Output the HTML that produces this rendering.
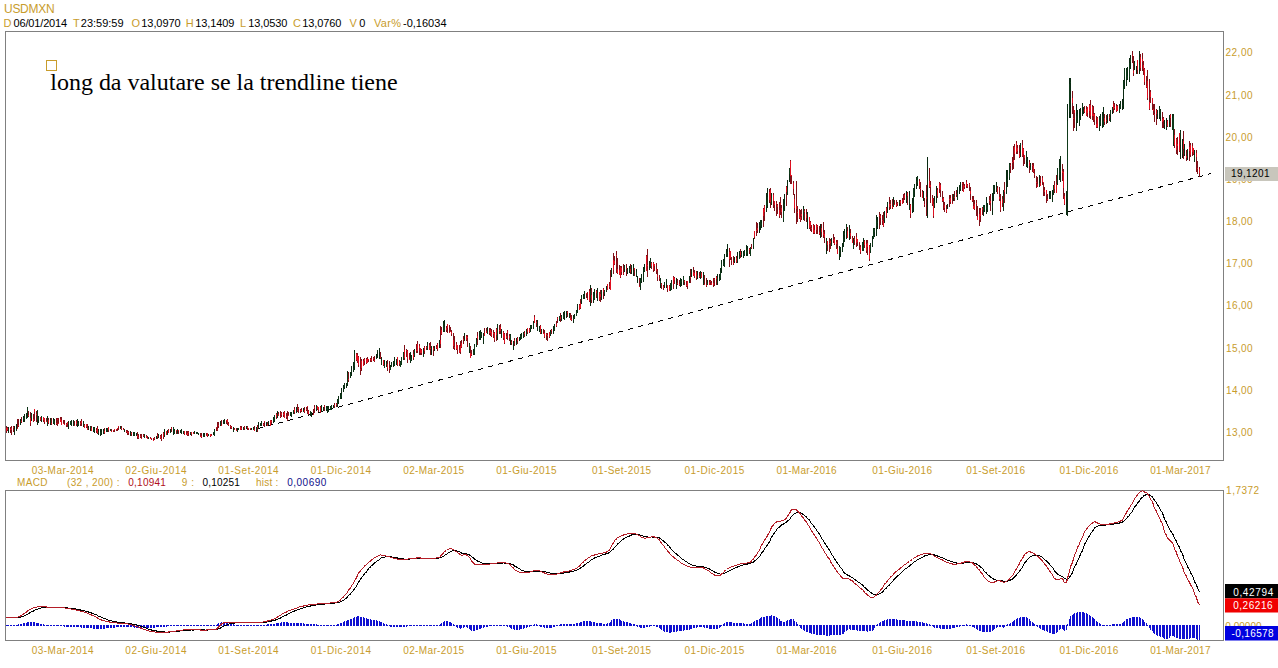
<!DOCTYPE html>
<html><head><meta charset="utf-8"><style>
html,body{margin:0;padding:0;background:#fff;width:1278px;height:668px;overflow:hidden}
svg{display:block}
text{font-family:"Liberation Sans",sans-serif}
</style></head><body>
<svg width="1278" height="668" viewBox="0 0 1278 668">
<rect x="5.5" y="31.5" width="1218" height="429" fill="#fff" stroke="#808080" stroke-width="1"/>
<rect x="5.5" y="490.5" width="1218" height="150" fill="#fff" stroke="#808080" stroke-width="1"/>
<text x="4.00" y="13" fill="#c89c2c" font-size="12" textLength="50.60" lengthAdjust="spacing" style="font-family:'Liberation Sans'" >USDMXN</text><text x="3.60" y="27" fill="#c89c2c" font-size="11" textLength="8.30" lengthAdjust="spacing" style="font-family:'Liberation Sans'" >D</text><text x="13.58" y="27" fill="#000" font-size="11" textLength="53.54" lengthAdjust="spacing" style="font-family:'Liberation Sans'" >06/01/2014</text><text x="73.08" y="27" fill="#c89c2c" font-size="11" textLength="5.10" lengthAdjust="spacing" style="font-family:'Liberation Sans'" >T</text><text x="80.80" y="27" fill="#000" font-size="11" textLength="42.80" lengthAdjust="spacing" style="font-family:'Liberation Sans'" >23:59:59</text><text x="131.40" y="27" fill="#c89c2c" font-size="11" textLength="8.40" lengthAdjust="spacing" style="font-family:'Liberation Sans'" >O</text><text x="141.30" y="27" fill="#000" font-size="11" textLength="39.30" lengthAdjust="spacing" style="font-family:'Liberation Sans'" >13,0970</text><text x="185.80" y="27" fill="#c89c2c" font-size="11" textLength="8.20" lengthAdjust="spacing" style="font-family:'Liberation Sans'" >H</text><text x="195.30" y="27" fill="#000" font-size="11" textLength="39.10" lengthAdjust="spacing" style="font-family:'Liberation Sans'" >13,1409</text><text x="240.10" y="27" fill="#c89c2c" font-size="11" textLength="7.00" lengthAdjust="spacing" style="font-family:'Liberation Sans'" >L</text><text x="248.14" y="27" fill="#000" font-size="11" textLength="39.18" lengthAdjust="spacing" style="font-family:'Liberation Sans'" >13,0530</text><text x="293.08" y="27" fill="#c89c2c" font-size="11" textLength="6.76" lengthAdjust="spacing" style="font-family:'Liberation Sans'" >C</text><text x="302.20" y="27" fill="#000" font-size="11" textLength="39.10" lengthAdjust="spacing" style="font-family:'Liberation Sans'" >13,0760</text><text x="349.42" y="27" fill="#c89c2c" font-size="11" textLength="8.62" lengthAdjust="spacing" style="font-family:'Liberation Sans'" >V</text><text x="359.20" y="27" fill="#000" font-size="11" textLength="6.40" lengthAdjust="spacing" style="font-family:'Liberation Sans'" >0</text><text x="373.90" y="27" fill="#c89c2c" font-size="11" textLength="27.06" lengthAdjust="spacing" style="font-family:'Liberation Sans'" >Var%</text><text x="403.00" y="27" fill="#000" font-size="11" textLength="43.50" lengthAdjust="spacing" style="font-family:'Liberation Sans'" >-0,16034</text><text x="16.98" y="486" fill="#c89c2c" font-size="10" textLength="30.50" lengthAdjust="spacing" style="font-family:'Liberation Sans'" >MACD</text><text x="66.90" y="486" fill="#c89c2c" font-size="10" textLength="52.60" lengthAdjust="spacing" style="font-family:'Liberation Sans'" >(32 , 200) :</text><text x="128.26" y="486" fill="#b01020" font-size="10" textLength="37.66" lengthAdjust="spacing" style="font-family:'Liberation Sans'" >0,10941</text><text x="181.80" y="486" fill="#c89c2c" font-size="10" textLength="12.30" lengthAdjust="spacing" style="font-family:'Liberation Sans'" >9 :</text><text x="202.58" y="486" fill="#000" font-size="10" textLength="37.22" lengthAdjust="spacing" style="font-family:'Liberation Sans'" >0,10251</text><text x="255.90" y="486" fill="#c89c2c" font-size="10" textLength="22.30" lengthAdjust="spacing" style="font-family:'Liberation Sans'" >hist :</text><text x="287.26" y="486" fill="#10108a" font-size="10" textLength="39.02" lengthAdjust="spacing" style="font-family:'Liberation Sans'" >0,00690</text><text x="1226.10" y="494" fill="#c89c2c" font-size="10" textLength="33.00" lengthAdjust="spacing" style="font-family:'Liberation Sans'" >1,7372</text><text x="1226.00" y="436" fill="#c89c2c" font-size="10" textLength="26.60" lengthAdjust="spacing" style="font-family:'Liberation Sans'" >13,00</text><text x="1226.00" y="394" fill="#c89c2c" font-size="10" textLength="26.60" lengthAdjust="spacing" style="font-family:'Liberation Sans'" >14,00</text><text x="1226.00" y="352" fill="#c89c2c" font-size="10" textLength="26.60" lengthAdjust="spacing" style="font-family:'Liberation Sans'" >15,00</text><text x="1226.00" y="309" fill="#c89c2c" font-size="10" textLength="26.60" lengthAdjust="spacing" style="font-family:'Liberation Sans'" >16,00</text><text x="1226.00" y="267" fill="#c89c2c" font-size="10" textLength="26.60" lengthAdjust="spacing" style="font-family:'Liberation Sans'" >17,00</text><text x="1226.00" y="225" fill="#c89c2c" font-size="10" textLength="26.60" lengthAdjust="spacing" style="font-family:'Liberation Sans'" >18,00</text><text x="1226.00" y="183" fill="#c89c2c" font-size="10" textLength="26.60" lengthAdjust="spacing" style="font-family:'Liberation Sans'" >19,00</text><text x="1225.42" y="141" fill="#c89c2c" font-size="10" textLength="27.18" lengthAdjust="spacing" style="font-family:'Liberation Sans'" >20,00</text><text x="1225.42" y="99" fill="#c89c2c" font-size="10" textLength="27.18" lengthAdjust="spacing" style="font-family:'Liberation Sans'" >21,00</text><text x="1225.42" y="56" fill="#c89c2c" font-size="10" textLength="27.18" lengthAdjust="spacing" style="font-family:'Liberation Sans'" >22,00</text><text x="31.80" y="474" fill="#c89c2c" font-size="10" textLength="61.80" lengthAdjust="spacing" style="font-family:'Liberation Sans'" >03-Mar-2014</text><text x="31.80" y="654" fill="#c89c2c" font-size="10" textLength="61.80" lengthAdjust="spacing" style="font-family:'Liberation Sans'" >03-Mar-2014</text><text x="125.30" y="474" fill="#c89c2c" font-size="10" textLength="61.30" lengthAdjust="spacing" style="font-family:'Liberation Sans'" >02-Giu-2014</text><text x="125.30" y="654" fill="#c89c2c" font-size="10" textLength="61.30" lengthAdjust="spacing" style="font-family:'Liberation Sans'" >02-Giu-2014</text><text x="218.30" y="474" fill="#c89c2c" font-size="10" textLength="60.34" lengthAdjust="spacing" style="font-family:'Liberation Sans'" >01-Set-2014</text><text x="218.30" y="654" fill="#c89c2c" font-size="10" textLength="60.34" lengthAdjust="spacing" style="font-family:'Liberation Sans'" >01-Set-2014</text><text x="310.80" y="474" fill="#c89c2c" font-size="10" textLength="60.30" lengthAdjust="spacing" style="font-family:'Liberation Sans'" >01-Dic-2014</text><text x="310.80" y="654" fill="#c89c2c" font-size="10" textLength="60.30" lengthAdjust="spacing" style="font-family:'Liberation Sans'" >01-Dic-2014</text><text x="403.26" y="474" fill="#c89c2c" font-size="10" textLength="60.86" lengthAdjust="spacing" style="font-family:'Liberation Sans'" >02-Mar-2015</text><text x="403.26" y="654" fill="#c89c2c" font-size="10" textLength="60.86" lengthAdjust="spacing" style="font-family:'Liberation Sans'" >02-Mar-2015</text><text x="496.30" y="474" fill="#c89c2c" font-size="10" textLength="60.30" lengthAdjust="spacing" style="font-family:'Liberation Sans'" >01-Giu-2015</text><text x="496.30" y="654" fill="#c89c2c" font-size="10" textLength="60.30" lengthAdjust="spacing" style="font-family:'Liberation Sans'" >01-Giu-2015</text><text x="592.10" y="474" fill="#c89c2c" font-size="10" textLength="59.06" lengthAdjust="spacing" style="font-family:'Liberation Sans'" >01-Set-2015</text><text x="592.10" y="654" fill="#c89c2c" font-size="10" textLength="59.06" lengthAdjust="spacing" style="font-family:'Liberation Sans'" >01-Set-2015</text><text x="684.50" y="474" fill="#c89c2c" font-size="10" textLength="59.80" lengthAdjust="spacing" style="font-family:'Liberation Sans'" >01-Dic-2015</text><text x="684.50" y="654" fill="#c89c2c" font-size="10" textLength="59.80" lengthAdjust="spacing" style="font-family:'Liberation Sans'" >01-Dic-2015</text><text x="776.58" y="474" fill="#c89c2c" font-size="10" textLength="60.06" lengthAdjust="spacing" style="font-family:'Liberation Sans'" >01-Mar-2016</text><text x="776.58" y="654" fill="#c89c2c" font-size="10" textLength="60.06" lengthAdjust="spacing" style="font-family:'Liberation Sans'" >01-Mar-2016</text><text x="872.20" y="474" fill="#c89c2c" font-size="10" textLength="59.90" lengthAdjust="spacing" style="font-family:'Liberation Sans'" >01-Giu-2016</text><text x="872.20" y="654" fill="#c89c2c" font-size="10" textLength="59.90" lengthAdjust="spacing" style="font-family:'Liberation Sans'" >01-Giu-2016</text><text x="966.26" y="474" fill="#c89c2c" font-size="10" textLength="58.86" lengthAdjust="spacing" style="font-family:'Liberation Sans'" >01-Set-2016</text><text x="966.26" y="654" fill="#c89c2c" font-size="10" textLength="58.86" lengthAdjust="spacing" style="font-family:'Liberation Sans'" >01-Set-2016</text><text x="1059.42" y="474" fill="#c89c2c" font-size="10" textLength="58.86" lengthAdjust="spacing" style="font-family:'Liberation Sans'" >01-Dic-2016</text><text x="1059.42" y="654" fill="#c89c2c" font-size="10" textLength="58.86" lengthAdjust="spacing" style="font-family:'Liberation Sans'" >01-Dic-2016</text><text x="1150.20" y="474" fill="#c89c2c" font-size="10" textLength="60.30" lengthAdjust="spacing" style="font-family:'Liberation Sans'" >01-Mar-2017</text><text x="1150.20" y="654" fill="#c89c2c" font-size="10" textLength="60.30" lengthAdjust="spacing" style="font-family:'Liberation Sans'" >01-Mar-2017</text>
<line x1="258" y1="428.6" x2="1211" y2="173.5" stroke="#000" stroke-width="1" stroke-dasharray="5.2 5.15" shape-rendering="crispEdges"/>
<path d="M8.5 427.0V432.6M14.5 426.0V434.5M16.5 423.9V431.1M20.5 418.6V424.5M23.5 416.0V422.4M24.5 413.9V422.4M26.5 413.0V418.9M27.5 407.1V418.4M31.5 412.7V421.1M37.5 409.9V424.7M38.5 415.8V423.2M41.5 416.1V421.9M47.5 416.1V425.5M50.5 418.0V424.9M53.5 418.3V424.0M54.5 419.2V425.0M68.5 421.4V428.6M70.5 420.9V425.0M71.5 420.0V425.5M73.5 420.4V425.9M77.5 419.3V427.1M78.5 420.7V426.0M83.5 421.4V427.1M88.5 426.0V429.7M90.5 426.0V430.6M93.5 426.7V431.8M94.5 427.0V432.7M98.5 429.2V434.7M100.5 429.3V435.5M101.5 429.0V434.5M103.5 429.3V434.4M106.5 428.3V431.9M107.5 427.5V432.4M110.5 429.1V431.3M120.5 426.4V429.0M124.5 428.5V431.7M130.5 430.7V436.3M133.5 432.1V435.7M134.5 432.4V435.5M136.5 432.6V436.2M144.5 434.0V438.0M148.5 436.8V438.9M156.5 436.3V438.9M158.5 434.3V437.6M164.5 429.3V437.1M167.5 429.9V435.0M170.5 428.6V433.2M173.5 426.9V434.7M174.5 429.3V434.4M177.5 429.2V434.0M180.5 429.6V433.0M181.5 429.3V433.5M183.5 430.8V433.8M190.5 431.6V435.4M194.5 431.0V434.1M196.5 432.0V433.8M197.5 431.8V434.3M198.5 432.6V435.1M203.5 433.4V436.3M204.5 432.6V436.5M208.5 433.5V435.8M213.5 431.8V435.0M214.5 429.2V435.7M220.5 421.1V426.3M223.5 420.0V423.4M224.5 418.5V423.5M233.5 426.6V431.8M237.5 427.8V431.8M238.5 428.0V430.2M243.5 426.5V429.6M246.5 426.3V429.2M251.5 427.9V429.6M253.5 427.3V429.8M256.5 426.6V431.5M258.5 421.5V429.4M260.5 423.0V426.3M261.5 420.8V425.7M266.5 421.5V426.1M268.5 421.0V425.4M273.5 417.2V422.8M274.5 415.2V421.6M277.5 410.6V417.7M290.5 411.8V416.2M291.5 411.7V416.6M293.5 409.6V414.2M296.5 406.8V412.6M303.5 407.9V412.3M310.5 410.7V415.8M311.5 411.8V416.6M316.5 404.7V410.6M321.5 405.2V411.9M323.5 406.7V410.6M326.5 406.3V411.4M327.5 405.9V413.1M328.5 405.9V411.1M330.5 405.9V409.9M331.5 404.7V409.5M333.5 404.8V407.5M337.5 399.4V407.1M338.5 396.3V404.4M340.5 393.3V398.8M341.5 388.2V398.7M343.5 385.4V392.0M344.5 383.1V389.1M346.5 383.1V388.2M347.5 371.1V385.6M350.5 372.2V378.3M351.5 366.3V376.4M353.5 362.2V371.9M354.5 350.2V369.9M376.5 353.8V358.5M377.5 349.5V358.1M379.5 348.4V359.2M381.5 357.0V365.1M384.5 360.4V367.8M386.5 361.0V367.4M390.5 364.8V370.3M391.5 362.1V367.4M393.5 360.9V366.8M394.5 356.9V366.4M396.5 358.5V364.6M400.5 360.6V367.4M401.5 357.2V365.3M403.5 352.3V359.7M410.5 351.7V363.2M411.5 354.8V361.2M414.5 348.5V357.2M423.5 348.4V355.9M427.5 342.3V350.0M431.5 346.0V354.5M434.5 346.4V350.8M439.5 340.0V347.6M443.5 321.3V331.8M444.5 320.2V331.8M464.5 332.8V340.3M469.5 343.3V353.0M473.5 349.0V354.8M474.5 343.7V354.8M476.5 338.3V347.1M479.5 330.7V340.2M480.5 329.8V339.5M481.5 331.6V337.5M483.5 333.1V343.5M487.5 326.7V334.2M497.5 323.5V339.5M501.5 328.8V337.8M510.5 334.0V344.6M513.5 340.9V349.7M516.5 338.1V344.6M519.5 336.7V340.8M520.5 333.9V340.3M521.5 333.0V338.9M523.5 331.9V338.3M526.5 328.8V335.5M530.5 325.1V331.9M531.5 324.9V329.3M533.5 321.2V328.8M537.5 320.4V330.5M539.5 325.5V331.5M541.5 328.6V333.9M550.5 329.5V336.1M553.5 325.9V333.0M554.5 323.5V331.0M559.5 315.5V320.7M561.5 315.2V320.5M563.5 311.9V319.4M564.5 311.0V320.4M566.5 311.1V318.3M569.5 312.9V318.4M573.5 315.1V322.5M574.5 313.8V318.9M576.5 309.9V316.2M577.5 303.6V312.7M581.5 294.5V304.0M583.5 293.8V298.7M584.5 291.4V298.7M590.5 285.0V306.0M593.5 291.8V303.1M594.5 289.3V299.8M597.5 288.2V300.9M601.5 289.6V299.8M604.5 290.2V295.8M606.5 286.3V291.6M611.5 268.1V276.5M624.5 264.8V271.7M627.5 267.5V273.5M629.5 265.8V272.6M631.5 264.8V274.4M633.5 264.1V275.8M636.5 269.4V277.2M637.5 275.6V283.1M640.5 277.7V290.3M641.5 273.7V283.3M643.5 267.3V282.0M644.5 263.6V271.7M649.5 260.7V269.7M650.5 257.8V267.8M660.5 277.7V287.5M664.5 282.4V287.9M666.5 278.8V287.5M670.5 283.0V291.4M671.5 280.1V290.0M676.5 277.8V289.0M680.5 277.9V287.0M681.5 278.9V285.5M683.5 276.0V285.3M689.5 275.7V282.5M691.5 268.7V277.1M697.5 271.2V279.0M700.5 271.0V278.8M703.5 271.9V285.0M707.5 280.3V285.1M717.5 273.5V285.0M719.5 274.1V281.4M720.5 268.4V280.0M721.5 260.0V273.1M723.5 259.0V265.6M724.5 254.1V267.0M726.5 248.6V256.5M727.5 244.0V256.8M734.5 257.3V263.4M737.5 252.2V263.0M739.5 251.0V259.4M741.5 250.8V256.8M743.5 250.6V258.0M744.5 249.5V255.5M746.5 245.0V256.4M747.5 246.3V255.5M750.5 246.6V256.0M753.5 238.0V249.0M759.5 221.5V233.0M760.5 220.0V230.0M761.5 220.0V227.9M766.5 193.0V212.1M767.5 188.0V207.6M771.5 193.0V204.8M783.5 198.6V222.0M784.5 193.6V211.1M787.5 180.1V195.0M789.5 167.6V182.2M803.5 206.0V220.3M807.5 211.9V229.0M820.5 223.6V238.0M826.5 238.0V254.0M831.5 238.2V245.5M839.5 245.6V260.0M840.5 246.6V257.1M842.5 243.0V252.3M843.5 231.0V247.4M844.5 229.2V241.8M846.5 224.0V239.3M849.5 224.9V240.0M853.5 237.5V249.0M862.5 241.7V251.2M863.5 238.0V251.4M870.5 242.8V253.1M872.5 236.3V247.3M873.5 228.0V239.4M874.5 228.0V237.1M876.5 215.0V236.2M877.5 217.2V229.0M884.5 211.4V223.0M887.5 202.0V213.1M893.5 197.0V207.2M899.5 200.0V206.0M906.5 191.0V202.5M909.5 191.0V210.0M912.5 198.3V213.2M913.5 188.0V212.0M914.5 184.2V196.8M916.5 177.0V189.0M917.5 176.0V186.2M923.5 190.6V201.0M927.5 157.0V218.0M934.5 196.1V207.8M936.5 186.0V203.4M947.5 204.3V209.4M953.5 193.8V201.1M957.5 187.1V200.0M959.5 184.6V193.5M960.5 182.0V191.1M983.5 205.0V216.1M984.5 205.1V212.1M986.5 197.0V214.2M987.5 202.6V212.3M992.5 193.3V215.0M993.5 185.0V200.6M994.5 184.6V193.6M996.5 182.0V192.0M1003.5 190.0V211.0M1006.5 170.0V194.0M1007.5 170.1V186.5M1009.5 163.0V180.0M1020.5 143.4V157.2M1026.5 150.8V167.0M1027.5 156.6V168.2M1030.5 163.3V170.1M1039.5 175.0V187.1M1049.5 191.0V199.1M1050.5 191.1V199.3M1052.5 190.0V202.0M1053.5 185.0V194.6M1057.5 167.8V184.8M1059.5 159.3V179.5M1060.5 156.0V182.0M1066.5 191.3V215.0M1067.5 104.3V215.5M1069.5 78.0V117.5M1070.5 78.0V117.5M1076.5 104.0V131.0M1077.5 109.8V122.8M1079.5 108.5V125.6M1080.5 108.2V119.8M1082.5 103.0V116.4M1083.5 107.2V113.8M1099.5 116.0V131.0M1100.5 114.4V126.0M1102.5 111.6V128.4M1103.5 107.0V127.0M1107.5 114.3V123.0M1110.5 110.3V122.0M1112.5 107.1V113.5M1119.5 104.0V113.0M1120.5 100.5V109.4M1122.5 98.8V110.1M1123.5 79.8V109.0M1124.5 68.0V89.0M1126.5 68.0V86.3M1127.5 67.0V80.4M1129.5 58.1V82.0M1130.5 55.0V68.7M1134.5 60.9V69.8M1136.5 66.4V73.9M1139.5 51.0V74.0M1157.5 109.8V119.2M1159.5 106.0V118.8M1160.5 109.2V120.7M1164.5 119.7V129.3M1166.5 117.9V130.0M1169.5 115.0V127.1M1172.5 114.1V130.4M1173.5 114.0V146.2M1180.5 130.0V159.0M1182.5 139.0V158.2M1184.5 143.8V156.3M1187.5 148.7V160.1M1194.5 149.7V162.3" stroke="#0a2a12" stroke-width="1" fill="none" shape-rendering="crispEdges"/><path d="M6.5 426.3V433.3M7.5 426.6V430.7M10.5 426.7V433.4M11.5 426.3V434.5M13.5 426.3V432.4M17.5 418.5V429.4M18.5 419.0V426.8M21.5 417.4V423.2M28.5 410.5V416.9M30.5 412.0V425.5M33.5 414.4V421.8M34.5 409.0V421.1M36.5 410.8V422.4M40.5 416.6V421.1M43.5 416.7V422.3M44.5 417.5V423.5M46.5 417.6V422.4M48.5 418.3V424.3M51.5 417.7V424.8M56.5 417.8V425.0M57.5 417.6V425.5M58.5 418.4V423.7M60.5 417.1V422.2M61.5 416.9V424.8M63.5 419.6V424.0M64.5 419.9V425.0M66.5 422.7V426.9M67.5 421.7V426.5M74.5 420.5V426.2M76.5 420.4V425.9M80.5 421.4V425.9M81.5 419.3V426.3M84.5 424.0V427.7M86.5 424.2V427.5M87.5 424.2V430.2M91.5 426.4V431.0M96.5 428.3V432.7M97.5 426.1V433.5M104.5 427.7V434.0M108.5 426.9V432.4M111.5 429.3V431.8M113.5 429.7V431.6M114.5 429.1V432.4M116.5 428.8V430.6M117.5 427.6V430.8M118.5 426.1V430.0M121.5 426.1V429.6M123.5 427.8V430.4M126.5 430.2V432.9M127.5 429.9V434.7M128.5 430.5V434.9M131.5 431.8V435.8M137.5 432.4V438.6M138.5 433.6V438.6M140.5 434.4V437.9M141.5 434.0V438.6M143.5 434.3V437.1M146.5 435.1V438.3M147.5 435.5V439.4M150.5 437.1V439.4M151.5 437.5V439.9M153.5 437.8V441.0M154.5 437.2V439.8M157.5 433.2V438.7M160.5 435.1V439.3M161.5 433.7V441.0M163.5 431.7V438.5M166.5 430.9V435.1M168.5 429.3V433.2M171.5 426.9V432.4M176.5 430.2V434.2M178.5 429.5V433.6M184.5 430.8V434.8M186.5 431.0V434.1M187.5 430.8V435.5M188.5 431.3V435.5M191.5 431.7V435.7M193.5 431.8V433.8M200.5 433.1V436.3M201.5 433.2V437.6M206.5 432.8V435.9M207.5 432.6V436.5M210.5 434.0V436.5M211.5 433.5V436.2M216.5 426.7V431.2M217.5 422.3V431.0M218.5 422.0V427.5M221.5 420.0V425.5M226.5 420.1V424.1M227.5 419.3V425.0M228.5 422.2V426.3M230.5 424.7V429.4M231.5 426.2V429.2M234.5 427.5V430.1M236.5 427.7V431.4M240.5 426.3V429.6M241.5 426.3V429.5M244.5 426.3V430.2M247.5 426.3V430.2M248.5 427.7V429.7M250.5 427.6V429.6M254.5 426.3V431.1M257.5 424.7V431.8M263.5 422.9V426.2M264.5 420.8V427.1M267.5 421.6V426.3M270.5 420.0V425.7M271.5 420.4V423.9M276.5 413.1V418.9M278.5 411.8V416.3M280.5 411.4V417.7M281.5 412.4V416.5M283.5 411.8V417.2M284.5 411.4V418.3M286.5 413.1V418.6M287.5 411.4V420.8M288.5 412.0V416.3M294.5 407.1V414.3M297.5 404.1V412.1M298.5 407.4V413.1M300.5 408.6V412.6M301.5 408.3V411.9M304.5 406.9V413.3M306.5 406.9V411.4M307.5 405.9V414.4M308.5 410.0V415.0M313.5 408.7V414.7M314.5 404.7V413.1M317.5 405.8V410.1M318.5 407.1V411.7M320.5 405.7V413.1M324.5 404.7V411.3M334.5 402.9V408.3M336.5 402.8V407.4M348.5 372.1V381.5M356.5 353.1V361.1M357.5 353.2V362.8M358.5 355.5V367.2M360.5 356.8V374.7M361.5 358.7V371.0M363.5 359.4V365.9M364.5 358.0V365.3M366.5 357.8V363.5M367.5 356.8V362.8M368.5 359.0V361.5M370.5 357.6V361.6M371.5 355.6V361.6M373.5 356.7V361.3M374.5 355.8V361.6M380.5 352.3V358.7M383.5 359.6V366.0M387.5 360.1V371.0M389.5 360.8V372.7M397.5 356.9V365.7M399.5 359.7V366.2M404.5 345.4V360.1M406.5 349.0V357.3M407.5 349.6V363.2M409.5 353.3V360.1M413.5 349.6V360.1M416.5 344.3V353.0M417.5 341.2V353.0M419.5 344.4V354.8M420.5 348.2V354.8M421.5 349.0V354.6M424.5 346.4V353.9M426.5 345.8V349.9M429.5 343.0V350.0M430.5 342.3V355.0M433.5 346.4V355.9M436.5 345.1V348.5M437.5 342.8V350.6M440.5 325.5V347.5M441.5 326.7V335.3M446.5 325.9V332.0M447.5 323.9V332.8M449.5 325.3V331.8M450.5 326.5V331.8M451.5 330.2V336.3M453.5 332.8V348.6M454.5 336.0V349.7M456.5 341.8V349.6M457.5 345.0V353.8M459.5 345.0V353.4M460.5 341.2V353.8M461.5 339.8V347.8M463.5 335.7V344.4M466.5 334.9V341.0M467.5 334.9V346.9M470.5 346.4V358.0M471.5 349.6V355.6M477.5 331.6V345.4M484.5 327.7V336.1M486.5 328.2V332.8M489.5 327.9V335.0M490.5 327.7V336.1M491.5 329.0V336.8M493.5 329.6V338.2M494.5 331.8V342.4M496.5 328.4V340.7M499.5 325.2V333.8M500.5 323.5V333.8M503.5 330.6V340.3M504.5 333.3V343.5M506.5 333.0V338.5M507.5 329.8V339.6M509.5 333.7V341.3M511.5 339.8V345.3M514.5 338.2V346.3M517.5 337.2V343.6M524.5 330.6V336.5M527.5 327.9V333.5M529.5 327.5V332.5M534.5 315.2V323.2M536.5 319.7V326.7M540.5 324.6V334.0M543.5 328.7V334.0M544.5 329.7V338.2M546.5 333.4V339.9M547.5 332.5V341.4M549.5 331.7V337.8M551.5 329.3V333.8M556.5 320.9V326.6M557.5 317.1V322.5M560.5 313.1V321.5M567.5 311.0V317.4M570.5 313.0V320.4M571.5 315.0V320.8M579.5 304.2V309.9M580.5 298.7V308.9M586.5 292.9V298.4M587.5 291.6V299.5M589.5 288.7V301.7M591.5 288.4V303.0M596.5 289.6V297.6M599.5 291.7V300.5M600.5 290.2V301.8M603.5 288.2V298.9M607.5 284.0V290.3M609.5 281.8V288.7M610.5 270.4V290.3M613.5 252.6V273.5M614.5 256.2V265.4M616.5 250.5V272.5M617.5 257.8V273.5M619.5 264.9V275.1M620.5 266.1V277.7M621.5 265.6V275.2M623.5 264.1V274.7M626.5 264.1V275.6M630.5 264.1V274.0M634.5 268.0V275.5M639.5 277.6V286.7M646.5 255.3V271.4M647.5 249.4V276.7M651.5 262.3V268.9M653.5 262.0V271.8M654.5 263.7V271.4M656.5 263.0V274.3M657.5 268.8V280.9M659.5 274.7V280.5M661.5 282.7V288.5M663.5 284.9V290.3M667.5 284.5V292.4M669.5 285.3V291.2M673.5 276.0V289.0M674.5 277.3V283.9M677.5 279.4V284.9M679.5 279.6V285.6M684.5 279.7V285.2M686.5 281.4V287.3M687.5 280.7V289.0M690.5 268.8V283.0M693.5 267.0V276.4M694.5 269.9V278.0M696.5 270.7V280.0M699.5 272.2V277.7M701.5 272.0V278.2M704.5 274.5V284.5M706.5 277.7V287.0M709.5 279.8V285.0M710.5 279.7V285.3M711.5 280.5V285.0M713.5 278.0V287.0M714.5 277.9V285.8M716.5 275.7V284.8M729.5 247.7V267.0M730.5 250.8V260.3M731.5 256.7V264.6M733.5 256.0V265.0M736.5 256.1V262.6M740.5 249.0V258.1M749.5 247.7V253.8M751.5 243.8V249.3M754.5 230.6V239.4M756.5 222.0V236.0M757.5 222.8V232.5M763.5 208.0V227.4M764.5 204.9V220.6M769.5 189.2V202.7M770.5 188.0V208.0M773.5 193.0V207.5M774.5 201.2V211.0M776.5 200.7V216.0M777.5 203.9V214.2M779.5 202.0V218.0M780.5 197.0V215.4M781.5 205.1V217.8M786.5 186.2V206.0M790.5 160.0V184.0M791.5 175.1V184.2M793.5 181.0V195.4M794.5 193.7V212.7M796.5 181.0V224.0M797.5 206.0V222.0M799.5 209.4V218.5M800.5 210.1V222.0M801.5 208.8V219.6M804.5 209.2V220.9M806.5 208.9V222.0M809.5 216.6V228.9M810.5 220.9V231.0M811.5 225.1V231.7M813.5 223.9V234.0M814.5 225.0V233.5M816.5 224.0V234.0M817.5 225.0V233.9M819.5 226.2V235.4M821.5 223.8V236.8M823.5 222.0V238.0M824.5 230.4V243.1M827.5 240.5V251.2M829.5 238.0V251.6M830.5 238.8V249.1M833.5 234.0V243.1M834.5 237.0V245.1M836.5 240.4V248.8M837.5 240.0V254.1M847.5 227.4V237.8M850.5 229.4V239.3M852.5 235.7V243.0M854.5 236.1V245.4M856.5 233.0V247.2M857.5 238.5V245.7M859.5 241.6V249.6M860.5 244.5V254.0M864.5 240.1V247.5M866.5 240.4V252.8M867.5 240.0V254.7M869.5 245.3V261.0M879.5 212.0V228.9M880.5 214.2V225.1M882.5 214.8V224.9M883.5 212.0V227.0M886.5 206.7V218.0M889.5 197.0V210.1M890.5 199.5V208.8M892.5 199.3V209.0M894.5 199.8V205.1M896.5 200.0V207.0M897.5 201.8V205.5M900.5 200.0V206.0M902.5 197.9V204.1M903.5 193.9V203.0M904.5 193.4V199.9M907.5 192.4V204.6M910.5 203.7V218.0M919.5 178.7V188.7M920.5 182.0V197.0M922.5 190.1V198.4M924.5 197.7V206.8M926.5 185.2V216.0M929.5 168.0V188.1M930.5 181.1V203.0M932.5 194.6V206.0M933.5 197.8V218.0M937.5 188.3V197.6M939.5 182.0V192.8M940.5 182.8V197.0M942.5 191.2V202.4M943.5 197.0V209.5M944.5 201.7V212.0M946.5 205.0V213.0M949.5 195.0V207.0M950.5 194.9V203.7M952.5 194.0V204.1M954.5 191.2V201.0M956.5 189.8V197.1M962.5 182.2V191.0M963.5 181.9V192.0M964.5 183.7V188.8M966.5 180.0V188.0M967.5 183.8V188.4M969.5 182.9V191.0M970.5 187.1V200.0M972.5 195.7V202.4M973.5 195.9V209.0M974.5 200.4V209.6M976.5 199.8V216.0M977.5 205.6V219.8M979.5 208.1V226.0M980.5 208.0V222.3M982.5 207.1V215.1M989.5 195.8V204.5M990.5 194.0V210.9M997.5 186.4V194.2M999.5 187.0V200.7M1000.5 193.7V212.0M1002.5 195.8V206.9M1004.5 181.7V202.5M1010.5 163.0V173.3M1012.5 156.8V170.1M1013.5 145.5V169.0M1014.5 144.4V160.4M1016.5 141.0V154.2M1017.5 145.4V154.4M1019.5 145.0V158.0M1022.5 140.0V157.0M1023.5 148.3V166.0M1024.5 154.8V164.3M1029.5 159.7V173.0M1032.5 163.0V172.1M1033.5 163.0V173.0M1034.5 169.0V177.8M1036.5 175.7V188.0M1037.5 176.6V187.4M1040.5 176.4V186.0M1042.5 175.9V185.2M1043.5 181.8V196.0M1044.5 186.7V195.9M1046.5 189.9V203.0M1047.5 193.7V200.9M1054.5 180.7V193.0M1056.5 175.0V193.1M1062.5 163.9V180.7M1063.5 169.0V199.0M1064.5 192.8V205.0M1072.5 91.0V113.9M1073.5 106.0V131.0M1074.5 109.5V127.8M1084.5 106.4V113.0M1086.5 105.7V116.1M1087.5 106.6V117.2M1089.5 104.0V117.5M1090.5 100.0V119.4M1092.5 105.2V120.2M1093.5 106.0V122.2M1094.5 112.9V124.6M1096.5 116.0V128.4M1097.5 116.7V127.6M1104.5 114.3V124.9M1106.5 114.6V124.1M1109.5 113.7V121.0M1113.5 101.0V113.0M1114.5 103.3V110.0M1116.5 103.6V112.1M1117.5 105.2V111.4M1132.5 51.0V63.2M1133.5 56.2V76.0M1137.5 60.0V74.0M1140.5 54.1V71.4M1142.5 52.8V71.3M1143.5 60.7V75.2M1144.5 68.3V85.0M1146.5 75.8V87.5M1147.5 70.0V99.7M1149.5 79.0V110.0M1150.5 90.0V103.4M1152.5 98.0V110.0M1153.5 103.9V115.0M1154.5 104.0V122.1M1156.5 109.4V125.0M1162.5 111.8V128.0M1163.5 116.9V127.8M1167.5 119.7V126.9M1170.5 114.1V126.5M1174.5 128.8V147.6M1176.5 137.6V154.2M1177.5 136.5V155.0M1179.5 132.6V151.8M1183.5 131.0V158.5M1186.5 150.3V161.0M1189.5 141.0V161.0M1190.5 143.3V156.7M1192.5 142.5V156.0M1193.5 147.8V155.2M1196.5 150.0V172.4M1197.5 161.2V173.9M1199.5 167.0V177.0" stroke="#801018" stroke-width="1" fill="none" shape-rendering="crispEdges"/><path d="M8.5 428.6V429.9M14.5 429.0V430.0M16.5 429.7V430.7M20.5 420.6V421.6M23.5 418.0V419.0M24.5 417.9V419.3M26.5 416.3V418.6M27.5 407.5V412.9M31.5 413.7V418.0M37.5 410.4V420.4M38.5 416.6V419.7M41.5 417.1V419.6M47.5 418.2V421.9M50.5 419.7V423.1M53.5 420.2V423.3M54.5 421.1V424.5M68.5 423.3V425.3M70.5 421.2V424.6M71.5 421.5V422.9M73.5 423.2V425.5M77.5 422.8V423.8M78.5 422.5V425.3M83.5 422.5V426.0M88.5 427.9V428.9M90.5 426.4V427.6M93.5 428.1V429.8M94.5 427.5V428.9M98.5 431.7V433.1M100.5 431.7V433.5M101.5 432.1V433.1M103.5 431.4V432.4M106.5 429.5V430.5M107.5 428.2V429.7M110.5 429.3V430.7M120.5 427.5V428.5M124.5 429.1V430.1M130.5 435.2V436.2M133.5 434.0V435.0M134.5 432.9V434.9M136.5 434.9V435.9M144.5 434.4V437.4M148.5 437.2V438.4M156.5 437.5V438.5M158.5 435.7V436.7M164.5 430.9V435.0M167.5 434.2V435.2M170.5 431.7V432.7M173.5 427.5V429.9M174.5 430.7V433.8M177.5 433.1V434.1M180.5 430.3V431.3M181.5 430.5V431.5M183.5 432.0V433.0M190.5 432.7V434.4M194.5 432.9V433.9M196.5 433.0V434.0M197.5 433.3V434.3M198.5 432.9V434.2M203.5 436.1V437.1M204.5 435.1V436.3M208.5 434.1V435.4M213.5 432.2V433.2M214.5 430.0V435.2M220.5 423.9V424.9M223.5 422.5V423.5M224.5 421.3V422.3M233.5 429.6V431.2M237.5 429.5V430.5M238.5 428.0V429.0M243.5 427.7V428.7M246.5 426.5V428.3M251.5 429.1V430.1M253.5 427.6V429.5M256.5 428.3V429.5M258.5 427.0V428.2M260.5 423.1V424.1M261.5 421.9V422.9M266.5 421.7V422.7M268.5 421.7V423.0M273.5 418.8V420.7M274.5 415.3V418.6M277.5 413.1V416.3M290.5 411.9V414.3M291.5 413.2V415.1M293.5 410.3V414.0M296.5 411.6V412.6M303.5 411.1V412.1M310.5 410.8V412.5M311.5 413.0V414.1M316.5 406.9V409.0M321.5 407.5V408.5M323.5 407.6V408.8M326.5 408.3V409.3M327.5 408.1V410.2M328.5 410.7V411.7M330.5 407.1V409.5M331.5 406.4V407.7M333.5 405.2V406.2M337.5 402.4V405.3M338.5 399.4V401.1M340.5 397.0V398.1M341.5 394.1V397.3M343.5 387.8V388.8M344.5 384.1V387.3M346.5 384.2V385.2M347.5 372.7V383.4M350.5 374.4V376.4M351.5 370.8V371.8M353.5 367.9V369.9M354.5 351.6V366.2M376.5 357.9V358.9M377.5 350.3V352.1M379.5 355.7V357.3M381.5 360.9V364.4M384.5 365.2V366.5M386.5 363.0V364.7M390.5 366.5V370.0M391.5 364.2V366.7M393.5 361.7V363.1M394.5 360.7V365.0M396.5 359.8V360.8M400.5 362.1V367.3M401.5 357.3V365.3M403.5 352.7V359.6M410.5 356.7V361.4M411.5 358.5V359.5M414.5 349.9V356.1M423.5 355.6V356.6M427.5 344.2V349.3M431.5 346.4V347.4M434.5 347.5V349.3M439.5 343.8V344.8M443.5 322.9V331.3M444.5 327.0V330.0M464.5 339.5V340.5M469.5 343.9V349.0M473.5 351.7V353.9M474.5 346.1V352.5M476.5 339.6V346.0M479.5 336.7V337.7M480.5 331.5V336.6M481.5 333.3V335.2M483.5 335.9V336.9M487.5 326.7V327.7M497.5 325.1V337.3M501.5 337.1V338.1M510.5 334.8V340.0M513.5 343.1V344.1M516.5 341.8V344.5M519.5 337.2V338.2M520.5 335.4V337.3M521.5 335.6V338.8M523.5 332.3V336.7M526.5 330.4V334.6M530.5 326.2V329.1M531.5 326.0V327.3M533.5 323.0V326.7M537.5 325.0V328.3M539.5 327.9V329.3M541.5 329.7V332.5M550.5 332.0V333.8M553.5 332.5V333.5M554.5 327.5V329.9M559.5 316.2V319.8M561.5 316.0V318.0M563.5 314.9V318.1M564.5 311.8V312.8M566.5 315.3V316.3M569.5 313.6V317.5M573.5 318.3V319.3M574.5 316.6V317.6M576.5 311.3V315.8M577.5 305.1V307.3M581.5 297.2V301.1M583.5 295.7V297.5M584.5 295.7V296.9M590.5 290.6V298.0M593.5 293.2V298.1M594.5 295.8V299.3M597.5 292.7V297.3M601.5 290.9V293.8M604.5 291.2V294.0M606.5 288.6V290.9M611.5 268.6V273.9M624.5 266.2V268.7M627.5 268.8V271.7M629.5 268.8V269.8M631.5 265.0V269.5M633.5 271.4V272.8M636.5 271.5V274.8M637.5 281.7V283.0M640.5 279.5V284.8M641.5 280.0V281.0M643.5 269.5V270.8M644.5 268.7V269.7M649.5 267.5V268.5M650.5 260.2V266.5M660.5 280.7V285.3M664.5 282.7V284.0M666.5 279.5V280.5M670.5 283.0V289.3M671.5 283.3V289.6M676.5 282.7V284.4M680.5 280.5V283.2M681.5 280.4V281.6M683.5 277.3V285.3M689.5 280.5V282.5M691.5 270.6V271.6M697.5 274.7V276.8M700.5 272.4V277.0M703.5 283.1V284.1M707.5 283.1V284.5M717.5 278.1V282.6M719.5 278.3V280.2M720.5 272.1V278.4M721.5 264.2V268.6M723.5 261.2V264.7M724.5 263.8V265.1M726.5 252.8V254.1M727.5 251.5V252.5M734.5 260.1V261.1M737.5 258.2V261.0M739.5 255.8V258.7M741.5 253.8V254.8M743.5 253.8V256.0M744.5 251.2V254.3M746.5 251.0V253.7M747.5 248.9V253.2M750.5 247.4V255.1M753.5 242.1V245.5M759.5 224.5V226.3M760.5 220.3V226.2M761.5 223.4V225.1M766.5 200.3V206.8M767.5 196.5V205.0M771.5 198.1V203.8M783.5 208.8V220.0M784.5 203.9V206.3M787.5 188.1V194.7M789.5 169.4V173.6M803.5 207.6V219.5M807.5 213.7V215.6M820.5 234.6V235.6M826.5 239.6V248.4M831.5 243.8V244.8M839.5 246.3V253.8M840.5 247.4V250.2M842.5 249.5V250.5M843.5 238.5V239.5M844.5 232.7V234.7M846.5 226.4V230.1M849.5 232.5V233.5M853.5 245.3V247.8M862.5 242.6V250.7M863.5 245.4V248.8M870.5 245.5V251.3M872.5 242.8V244.6M873.5 228.8V237.6M874.5 229.1V231.8M876.5 220.4V225.8M877.5 221.5V222.7M884.5 216.0V219.8M887.5 203.1V205.0M893.5 201.9V205.6M899.5 201.4V202.9M906.5 197.3V201.1M909.5 196.1V202.2M912.5 202.5V209.5M913.5 189.1V197.8M914.5 185.3V187.5M916.5 180.9V181.9M917.5 177.1V182.5M923.5 200.1V201.1M927.5 179.3V184.1M934.5 201.2V205.9M936.5 196.6V198.2M947.5 208.0V209.0M953.5 193.8V198.4M957.5 193.2V198.5M959.5 184.9V186.4M960.5 187.2V189.3M983.5 205.3V210.1M984.5 207.2V210.4M986.5 203.3V208.8M987.5 206.6V210.2M992.5 204.6V207.5M993.5 185.8V193.0M994.5 184.9V186.1M996.5 187.4V188.4M1003.5 194.7V203.5M1006.5 193.2V194.2M1007.5 179.4V180.5M1009.5 163.6V177.4M1020.5 144.0V145.3M1026.5 151.6V160.1M1027.5 157.5V162.4M1030.5 167.4V169.6M1039.5 182.7V186.2M1049.5 197.4V198.4M1050.5 194.4V197.6M1052.5 199.5V200.5M1053.5 186.4V193.1M1057.5 168.5V182.7M1059.5 167.1V174.9M1060.5 169.2V172.3M1066.5 210.5V211.5M1067.5 121.0V198.8M1069.5 83.9V111.6M1070.5 81.7V82.7M1076.5 116.3V121.8M1077.5 113.9V122.5M1079.5 117.9V122.6M1080.5 110.5V116.1M1082.5 103.5V107.5M1083.5 107.7V108.7M1099.5 116.3V128.4M1100.5 121.1V123.0M1102.5 115.7V123.8M1103.5 121.3V125.8M1107.5 114.7V115.8M1110.5 110.5V115.4M1112.5 108.4V111.2M1119.5 107.6V112.6M1120.5 104.3V107.7M1122.5 105.4V106.4M1123.5 81.1V90.1M1124.5 68.9V76.6M1126.5 69.9V79.1M1127.5 76.2V78.7M1129.5 62.5V77.1M1130.5 59.0V61.7M1134.5 63.0V64.9M1136.5 72.6V73.6M1139.5 65.4V69.4M1157.5 112.8V114.2M1159.5 107.9V116.6M1160.5 110.0V117.3M1164.5 124.2V125.2M1166.5 123.2V128.4M1169.5 119.0V120.2M1172.5 118.0V130.0M1173.5 115.8V141.7M1180.5 131.8V145.1M1182.5 148.7V153.8M1184.5 153.1V154.1M1187.5 149.4V156.8M1194.5 154.9V158.5" stroke="#0f3a1a" stroke-width="1" fill="none" shape-rendering="crispEdges"/><path d="M6.5 427.7V430.7M7.5 427.7V429.5M10.5 428.6V429.7M11.5 427.9V430.0M13.5 426.6V427.6M17.5 428.4V429.4M18.5 424.9V425.9M21.5 421.1V422.1M28.5 414.8V415.8M30.5 418.2V423.1M33.5 418.6V420.8M34.5 409.4V412.2M36.5 413.6V414.8M40.5 416.6V420.1M43.5 416.9V419.6M44.5 417.6V421.5M46.5 420.5V421.5M48.5 420.1V423.1M51.5 422.9V424.3M56.5 423.3V424.3M57.5 418.8V419.8M58.5 422.9V423.9M60.5 418.6V421.9M61.5 420.3V424.5M63.5 422.6V423.6M64.5 423.8V424.8M66.5 423.6V425.4M67.5 422.4V424.1M74.5 424.5V426.1M76.5 421.0V423.6M80.5 422.6V424.2M81.5 420.9V422.9M84.5 425.3V427.6M86.5 424.4V426.7M87.5 428.1V429.9M91.5 427.8V430.8M96.5 430.4V431.4M97.5 428.1V432.8M104.5 431.4V432.6M108.5 427.4V430.1M111.5 431.1V432.1M113.5 430.3V431.3M114.5 429.4V430.4M116.5 428.9V430.0M117.5 427.6V428.6M118.5 426.2V427.2M121.5 428.2V429.2M123.5 428.8V429.8M126.5 431.4V432.4M127.5 432.4V433.4M128.5 432.3V433.3M131.5 433.2V434.2M137.5 434.7V437.1M138.5 437.2V438.4M140.5 435.9V436.9M141.5 437.7V438.7M143.5 434.6V435.6M146.5 435.5V438.1M147.5 437.5V438.6M150.5 437.6V438.6M151.5 437.7V438.7M153.5 439.8V440.8M154.5 438.1V439.3M157.5 435.3V436.7M160.5 436.0V438.4M161.5 438.1V439.2M163.5 433.1V436.8M166.5 431.4V434.9M168.5 429.7V433.2M171.5 428.2V429.3M176.5 430.3V431.3M178.5 429.6V430.7M184.5 431.0V433.7M186.5 433.5V434.5M187.5 432.7V434.5M188.5 432.3V433.4M191.5 431.7V434.1M193.5 433.2V434.2M200.5 435.9V436.9M201.5 436.1V437.1M206.5 434.7V435.7M207.5 432.8V436.3M210.5 434.2V435.9M211.5 434.5V435.5M216.5 427.3V428.3M217.5 428.5V430.1M218.5 424.7V425.7M221.5 424.8V425.8M226.5 420.1V421.1M227.5 419.7V423.1M228.5 424.3V425.3M230.5 425.5V426.5M231.5 427.0V428.0M234.5 428.5V429.5M236.5 430.3V431.3M240.5 426.7V429.5M241.5 427.7V429.4M244.5 427.4V428.4M247.5 426.6V427.6M248.5 428.2V429.2M250.5 427.8V428.8M254.5 429.1V430.8M257.5 427.1V428.1M263.5 423.6V424.6M264.5 421.2V422.3M267.5 423.8V425.8M270.5 420.2V425.6M271.5 421.0V422.0M276.5 413.6V417.0M278.5 413.8V415.6M280.5 415.7V417.0M281.5 413.0V414.9M283.5 413.7V414.9M284.5 411.9V417.9M286.5 416.3V417.3M287.5 419.4V420.4M288.5 415.2V416.2M294.5 408.9V412.3M297.5 409.6V411.0M298.5 407.8V408.8M300.5 410.0V411.0M301.5 409.6V410.6M304.5 409.7V411.6M306.5 409.1V410.2M307.5 406.0V407.0M308.5 410.8V413.9M313.5 414.2V415.2M314.5 407.1V408.1M317.5 405.9V409.3M318.5 407.3V409.7M320.5 407.4V411.6M324.5 406.2V407.3M334.5 404.6V405.6M336.5 403.7V405.2M348.5 379.1V380.1M356.5 353.5V359.9M357.5 355.3V361.3M358.5 356.5V365.1M360.5 369.0V370.0M361.5 361.1V368.2M363.5 360.6V365.9M364.5 358.8V361.2M366.5 359.1V362.6M367.5 358.9V362.8M368.5 359.0V360.3M370.5 358.6V359.8M371.5 359.1V361.2M373.5 358.0V359.0M374.5 359.7V360.7M380.5 356.9V357.9M383.5 360.3V365.4M387.5 363.9V367.6M389.5 367.5V368.5M397.5 357.0V364.8M399.5 361.6V364.0M404.5 349.8V358.2M406.5 350.1V351.1M407.5 350.5V359.0M409.5 358.6V359.6M413.5 353.9V357.6M416.5 349.7V351.4M417.5 343.7V350.9M419.5 345.6V347.9M420.5 348.3V353.4M421.5 349.7V353.2M424.5 346.9V350.5M426.5 347.0V348.2M429.5 345.1V349.5M430.5 347.9V348.9M433.5 347.5V349.7M436.5 347.4V348.4M437.5 344.1V349.2M440.5 339.9V344.3M441.5 330.4V333.9M446.5 328.3V329.7M447.5 324.4V327.6M449.5 331.5V332.5M450.5 331.2V332.2M451.5 332.2V333.5M453.5 340.0V346.1M454.5 346.8V348.1M456.5 344.3V349.3M457.5 345.2V350.1M459.5 349.9V352.9M460.5 346.4V352.0M461.5 343.3V347.3M463.5 338.5V339.8M466.5 335.6V339.6M467.5 336.7V338.1M470.5 352.8V357.9M471.5 353.7V354.7M477.5 335.8V339.0M484.5 333.3V335.8M486.5 331.0V332.5M489.5 331.5V332.8M490.5 330.0V332.7M491.5 332.1V336.1M493.5 332.9V333.9M494.5 332.8V340.3M496.5 328.5V334.7M499.5 330.1V331.1M500.5 326.7V330.6M503.5 332.3V337.9M504.5 334.3V343.1M506.5 335.8V338.3M507.5 330.5V332.7M509.5 336.3V337.7M511.5 341.6V342.6M514.5 339.8V340.8M517.5 338.1V341.0M524.5 332.6V333.6M527.5 327.9V332.4M529.5 329.4V331.9M534.5 317.0V322.5M536.5 321.6V322.7M540.5 326.2V333.2M543.5 332.8V333.8M544.5 332.8V336.6M546.5 333.5V334.5M547.5 335.3V336.3M549.5 332.0V337.3M551.5 330.0V331.0M556.5 323.5V326.0M557.5 317.6V319.2M560.5 317.0V319.1M567.5 311.5V312.6M570.5 316.9V319.7M571.5 319.1V320.1M579.5 305.3V309.5M580.5 303.3V307.8M586.5 293.0V294.1M587.5 297.9V299.4M589.5 290.6V301.2M591.5 295.0V300.3M596.5 290.6V293.3M599.5 291.9V299.8M600.5 294.2V296.9M603.5 289.2V291.5M607.5 284.4V289.6M609.5 286.0V287.0M610.5 279.9V290.0M613.5 260.2V270.3M614.5 260.8V264.3M616.5 254.9V255.9M617.5 268.8V273.4M619.5 269.9V274.7M620.5 267.1V277.0M621.5 267.7V272.0M623.5 272.9V273.9M626.5 267.7V268.9M630.5 268.6V271.5M634.5 268.0V269.5M639.5 285.5V286.5M646.5 255.8V271.1M647.5 265.4V266.4M651.5 263.1V266.4M653.5 262.6V269.5M654.5 264.3V265.6M656.5 269.2V271.0M657.5 275.0V277.4M659.5 277.9V279.3M661.5 284.1V285.1M663.5 285.9V288.2M667.5 285.4V289.0M669.5 285.9V290.8M673.5 276.8V283.6M674.5 278.2V279.8M677.5 282.8V284.2M679.5 284.2V285.2M684.5 280.5V282.0M686.5 285.2V286.2M687.5 281.4V286.2M690.5 276.7V277.7M693.5 271.9V275.6M694.5 273.0V275.9M696.5 272.3V277.6M699.5 275.8V276.8M701.5 272.5V277.5M704.5 283.9V284.9M706.5 284.5V285.5M709.5 281.7V284.9M710.5 280.5V281.7M711.5 282.6V284.7M713.5 282.5V285.4M714.5 278.7V279.7M716.5 277.2V279.4M729.5 252.3V259.0M730.5 251.2V258.0M731.5 260.1V261.1M733.5 261.6V263.9M736.5 258.1V261.5M740.5 251.7V255.0M749.5 248.7V249.7M751.5 247.2V248.2M754.5 230.8V236.8M756.5 229.8V230.8M757.5 227.9V230.3M763.5 209.3V216.4M764.5 205.8V211.7M769.5 192.1V199.8M770.5 190.4V201.7M773.5 194.5V201.3M774.5 201.4V204.7M776.5 202.9V203.9M777.5 204.9V206.7M779.5 209.8V215.6M780.5 203.0V205.1M781.5 207.5V211.7M786.5 186.5V192.0M790.5 160.5V176.4M791.5 175.1V176.1M793.5 182.8V188.9M794.5 198.8V207.9M796.5 205.9V209.3M797.5 211.6V212.6M799.5 210.4V217.6M800.5 217.3V220.2M801.5 214.2V215.6M804.5 211.0V212.0M806.5 213.6V217.9M809.5 216.9V227.8M810.5 222.1V226.6M811.5 228.0V229.0M813.5 224.6V232.9M814.5 229.8V232.9M816.5 224.3V229.9M817.5 225.9V226.9M819.5 232.3V234.4M821.5 228.0V232.4M823.5 231.9V234.9M824.5 234.2V237.4M827.5 241.4V245.0M829.5 242.9V243.9M830.5 241.4V243.0M833.5 239.7V241.3M834.5 238.5V243.5M836.5 241.9V243.5M837.5 247.8V253.6M847.5 230.9V237.5M850.5 232.7V236.0M852.5 238.2V242.9M854.5 238.7V239.9M856.5 237.1V242.6M857.5 239.2V242.4M859.5 242.3V243.3M860.5 246.5V252.2M864.5 241.3V245.4M866.5 244.0V251.2M867.5 243.2V247.3M869.5 246.1V259.0M879.5 215.3V216.3M880.5 216.1V218.1M882.5 219.6V220.6M883.5 220.8V226.2M886.5 207.6V216.1M889.5 203.7V207.4M890.5 204.3V205.3M892.5 205.8V208.3M894.5 204.4V205.4M896.5 204.1V205.5M897.5 202.5V203.5M900.5 200.7V202.5M902.5 200.2V204.1M903.5 200.0V201.0M904.5 195.0V197.5M907.5 193.3V195.7M910.5 205.2V213.9M919.5 180.9V185.9M920.5 188.3V189.3M922.5 191.8V198.1M924.5 203.8V204.8M926.5 196.9V198.6M929.5 181.0V187.2M930.5 185.3V186.7M932.5 198.4V203.8M933.5 203.8V216.3M937.5 190.1V195.8M939.5 182.8V189.0M940.5 184.7V189.8M942.5 199.3V201.4M943.5 197.5V201.3M944.5 205.2V207.6M946.5 208.6V211.5M949.5 198.8V199.8M950.5 198.2V202.2M952.5 202.9V203.9M954.5 196.5V197.5M956.5 193.8V194.8M962.5 182.6V183.7M963.5 185.3V192.0M964.5 185.9V186.9M966.5 181.5V185.9M967.5 184.5V187.4M969.5 183.6V184.6M970.5 191.3V193.5M972.5 198.9V201.0M973.5 205.7V208.8M974.5 204.4V209.3M976.5 203.1V204.4M977.5 217.2V219.6M979.5 213.7V220.1M980.5 209.8V215.7M982.5 208.2V210.4M989.5 199.6V200.6M990.5 200.8V203.3M997.5 188.0V191.7M999.5 196.8V198.5M1000.5 200.9V210.4M1002.5 199.4V202.5M1004.5 189.8V191.7M1010.5 165.4V166.4M1012.5 161.6V162.6M1013.5 160.4V161.6M1014.5 147.4V153.6M1016.5 143.4V151.9M1017.5 147.8V151.0M1019.5 153.4V156.9M1022.5 145.4V156.4M1023.5 148.9V153.5M1024.5 154.9V158.1M1029.5 162.3V165.9M1032.5 164.9V166.0M1033.5 165.9V172.2M1034.5 173.8V174.8M1036.5 181.7V182.7M1037.5 183.9V186.8M1040.5 183.1V185.5M1042.5 178.3V181.9M1043.5 181.9V183.2M1044.5 190.2V192.2M1046.5 190.2V194.9M1047.5 198.5V200.1M1054.5 185.1V189.3M1056.5 183.9V193.0M1062.5 170.6V172.7M1063.5 171.7V188.3M1064.5 196.4V203.6M1072.5 98.4V102.9M1073.5 118.3V119.3M1074.5 110.1V112.7M1084.5 109.0V111.5M1086.5 108.9V116.0M1087.5 107.2V112.6M1089.5 105.0V111.1M1090.5 105.1V116.0M1092.5 107.1V115.9M1093.5 114.0V115.5M1094.5 114.1V120.0M1096.5 124.0V126.5M1097.5 117.6V127.2M1104.5 117.5V122.0M1106.5 119.8V121.1M1109.5 117.1V118.4M1113.5 104.1V109.1M1114.5 107.0V108.0M1116.5 106.0V110.5M1117.5 106.1V110.6M1132.5 55.0V56.0M1133.5 70.7V73.1M1137.5 60.2V69.7M1140.5 57.1V67.8M1142.5 58.5V62.1M1143.5 64.5V69.3M1144.5 68.5V81.8M1146.5 86.4V87.4M1147.5 81.4V97.7M1149.5 101.8V108.5M1150.5 92.2V97.3M1152.5 98.0V102.6M1153.5 108.6V111.0M1154.5 114.4V115.4M1156.5 109.7V114.4M1162.5 118.8V121.8M1163.5 118.1V121.3M1167.5 121.0V126.2M1170.5 114.6V118.1M1174.5 135.2V145.4M1176.5 138.6V149.6M1177.5 144.2V145.7M1179.5 132.7V151.0M1183.5 140.9V148.9M1186.5 156.4V157.8M1189.5 147.3V151.0M1190.5 144.9V154.5M1192.5 145.6V151.5M1193.5 147.9V153.9M1196.5 153.4V156.9M1197.5 168.2V169.2M1199.5 169.0V173.1" stroke="#e01020" stroke-width="1" fill="none" shape-rendering="crispEdges"/>
<rect x="1225" y="167" width="53" height="14" fill="#c8c6bc"/>
<text x="1231.00" y="177" fill="#000" font-size="10" textLength="38.50" lengthAdjust="spacing" style="font-family:'Liberation Sans'" >19,1201</text>
<rect x="46.5" y="60.5" width="10" height="10" fill="none" stroke="#c89c2c" stroke-width="1"/>
<text x="50.30" y="90.2" fill="#000" font-size="24" textLength="347.30" lengthAdjust="spacing" style="font-family:'Liberation Serif'" >long da valutare se la trendline tiene</text>
<path d="M6.5 625V626M7.5 625V626M8.5 625V626M10.5 625V626M11.5 625V626M13.5 625V626M14.5 625V626M16.5 625V626M17.5 625V626M18.5 624V626M20.5 624V626M21.5 624V626M23.5 623V626M24.5 623V626M26.5 623V626M27.5 622V626M28.5 622V626M30.5 622V626M31.5 622V626M33.5 622V626M34.5 622V626M36.5 623V626M37.5 623V626M38.5 623V626M40.5 624V626M41.5 624V626M43.5 624V626M44.5 625V626M46.5 625V626M47.5 625V626M48.5 625V626M50.5 625V626M51.5 625V626M53.5 625V626M54.5 625V626M56.5 625V626M57.5 625V626M58.5 625V626M60.5 625V626M61.5 625V626M63.5 625V626M64.5 625V627M66.5 625V627M67.5 625V627M68.5 625V627M70.5 625V627M71.5 625V627M73.5 625V627M74.5 625V627M76.5 625V627M77.5 625V627M78.5 625V627M80.5 625V627M81.5 625V628M83.5 625V628M84.5 625V628M86.5 625V628M87.5 625V628M88.5 625V628M90.5 625V628M91.5 625V628M93.5 625V629M94.5 625V629M96.5 625V629M97.5 625V629M98.5 625V629M100.5 625V629M101.5 625V629M103.5 625V629M104.5 625V629M106.5 625V628M107.5 625V628M108.5 625V628M110.5 625V628M111.5 625V628M113.5 625V628M114.5 625V628M116.5 625V627M117.5 625V627M118.5 625V627M120.5 625V627M121.5 625V627M123.5 625V627M124.5 625V627M126.5 625V627M127.5 625V627M128.5 625V627M130.5 625V627M131.5 625V627M133.5 625V627M134.5 625V628M136.5 625V628M137.5 625V628M138.5 625V628M140.5 625V628M141.5 625V628M143.5 625V628M144.5 625V628M146.5 625V628M147.5 625V628M148.5 625V628M150.5 625V628M151.5 625V628M153.5 625V628M154.5 625V628M156.5 625V627M157.5 625V627M158.5 625V627M160.5 625V627M161.5 625V627M163.5 625V627M164.5 625V627M166.5 625V627M167.5 625V626M168.5 625V626M170.5 625V626M171.5 625V626M173.5 625V626M174.5 625V626M176.5 625V626M177.5 625V626M178.5 625V626M180.5 625V626M181.5 625V626M183.5 625V626M184.5 625V626M186.5 625V626M187.5 625V626M188.5 625V626M190.5 625V626M191.5 625V626M193.5 625V626M194.5 625V626M196.5 625V626M197.5 625V626M198.5 625V626M200.5 625V626M201.5 625V626M203.5 625V626M204.5 625V626M206.5 625V626M207.5 625V626M208.5 625V626M210.5 625V626M211.5 625V626M213.5 625V626M214.5 625V626M216.5 625V626M217.5 624V626M218.5 623V626M220.5 623V626M221.5 622V626M223.5 622V626M224.5 622V626M226.5 623V626M227.5 623V626M228.5 624V626M230.5 624V626M231.5 624V626M233.5 624V626M234.5 625V626M236.5 625V626M237.5 625V626M238.5 625V626M240.5 625V626M241.5 625V626M243.5 625V626M244.5 625V626M246.5 625V626M247.5 625V626M248.5 625V626M250.5 625V626M251.5 625V626M253.5 625V626M254.5 625V626M256.5 625V626M257.5 625V626M258.5 625V626M260.5 625V626M261.5 625V626M263.5 625V626M264.5 625V626M266.5 625V626M267.5 624V626M268.5 624V626M270.5 624V626M271.5 624V626M273.5 624V626M274.5 624V626M276.5 623V626M277.5 623V626M278.5 623V626M280.5 623V626M281.5 622V626M283.5 622V626M284.5 622V626M286.5 622V626M287.5 622V626M288.5 623V626M290.5 623V626M291.5 623V626M293.5 623V626M294.5 623V626M296.5 623V626M297.5 623V626M298.5 623V626M300.5 623V626M301.5 623V626M303.5 623V626M304.5 624V626M306.5 624V626M307.5 624V626M308.5 624V626M310.5 624V626M311.5 624V626M313.5 624V626M314.5 624V626M316.5 624V626M317.5 625V626M318.5 625V626M320.5 625V626M321.5 625V626M323.5 625V626M324.5 625V626M326.5 625V626M327.5 625V626M328.5 625V626M330.5 625V626M331.5 625V626M333.5 625V626M334.5 625V626M336.5 625V626M337.5 624V626M338.5 624V626M340.5 623V626M341.5 623V626M343.5 622V626M344.5 621V626M346.5 621V626M347.5 620V626M348.5 620V626M350.5 619V626M351.5 619V626M353.5 618V626M354.5 617V626M356.5 617V626M357.5 616V626M358.5 616V626M360.5 617V626M361.5 617V626M363.5 617V626M364.5 618V626M366.5 618V626M367.5 619V626M368.5 619V626M370.5 619V626M371.5 620V626M373.5 620V626M374.5 620V626M376.5 620V626M377.5 621V626M379.5 621V626M380.5 622V626M381.5 622V626M383.5 623V626M384.5 624V626M386.5 624V626M387.5 625V626M389.5 625V626M390.5 625V627M391.5 625V627M393.5 625V627M394.5 625V627M396.5 625V627M397.5 625V627M399.5 625V627M400.5 625V627M401.5 625V627M403.5 625V627M404.5 625V627M406.5 625V627M407.5 625V626M409.5 625V626M410.5 625V626M411.5 625V626M413.5 625V626M414.5 625V626M416.5 625V626M417.5 625V626M419.5 625V626M420.5 625V626M421.5 625V626M423.5 625V626M424.5 625V626M426.5 625V626M427.5 625V626M429.5 625V626M430.5 625V626M431.5 625V626M433.5 625V626M434.5 625V626M436.5 625V626M437.5 625V626M439.5 625V626M440.5 624V626M441.5 623V626M443.5 622V626M444.5 621V626M446.5 621V626M447.5 621V626M449.5 622V626M450.5 622V626M451.5 623V626M453.5 624V626M454.5 625V626M456.5 625V627M457.5 625V628M459.5 625V628M460.5 625V629M461.5 625V628M463.5 625V628M464.5 625V627M466.5 625V627M467.5 625V628M469.5 625V629M470.5 625V630M471.5 625V631M473.5 625V631M474.5 625V631M476.5 625V630M477.5 625V630M479.5 625V629M480.5 625V629M481.5 625V628M483.5 625V628M484.5 625V627M486.5 625V627M487.5 625V627M489.5 625V626M490.5 625V626M491.5 625V626M493.5 625V626M494.5 625V626M496.5 625V626M497.5 625V626M499.5 625V626M500.5 625V626M501.5 625V626M503.5 625V626M504.5 625V626M506.5 625V626M507.5 625V627M509.5 625V627M510.5 625V628M511.5 625V629M513.5 625V629M514.5 625V630M516.5 625V630M517.5 625V630M519.5 625V630M520.5 625V629M521.5 625V629M523.5 625V629M524.5 625V628M526.5 625V628M527.5 625V627M529.5 625V627M530.5 625V626M531.5 625V626M533.5 625V626M534.5 624V626M536.5 624V626M537.5 625V626M539.5 625V626M540.5 625V627M541.5 625V627M543.5 625V627M544.5 625V628M546.5 625V628M547.5 625V628M549.5 625V628M550.5 625V628M551.5 625V628M553.5 625V627M554.5 625V627M556.5 625V626M557.5 625V626M559.5 625V626M560.5 624V626M561.5 624V626M563.5 624V626M564.5 624V626M566.5 624V626M567.5 624V626M569.5 624V626M570.5 624V626M571.5 624V626M573.5 624V626M574.5 624V626M576.5 623V626M577.5 623V626M579.5 623V626M580.5 622V626M581.5 622V626M583.5 621V626M584.5 621V626M586.5 621V626M587.5 621V626M589.5 621V626M590.5 621V626M591.5 622V626M593.5 622V626M594.5 622V626M596.5 623V626M597.5 623V626M599.5 623V626M600.5 623V626M601.5 623V626M603.5 624V626M604.5 624V626M606.5 624V626M607.5 623V626M609.5 623V626M610.5 622V626M611.5 620V626M613.5 619V626M614.5 619V626M616.5 619V626M617.5 619V626M619.5 619V626M620.5 620V626M621.5 621V626M623.5 621V626M624.5 622V626M626.5 622V626M627.5 622V626M629.5 623V626M630.5 623V626M631.5 624V626M633.5 624V626M634.5 624V626M636.5 625V626M637.5 625V627M639.5 625V627M640.5 625V628M641.5 625V628M643.5 625V628M644.5 625V628M646.5 625V627M647.5 625V627M649.5 625V627M650.5 625V626M651.5 625V626M653.5 625V626M654.5 625V626M656.5 625V627M657.5 625V627M659.5 625V628M660.5 625V629M661.5 625V630M663.5 625V631M664.5 625V632M666.5 625V632M667.5 625V632M669.5 625V633M670.5 625V633M671.5 625V632M673.5 625V632M674.5 625V632M676.5 625V632M677.5 625V631M679.5 625V631M680.5 625V631M681.5 625V631M683.5 625V631M684.5 625V630M686.5 625V630M687.5 625V630M689.5 625V630M690.5 625V629M691.5 625V629M693.5 625V628M694.5 625V628M696.5 625V628M697.5 625V627M699.5 625V627M700.5 625V627M701.5 625V627M703.5 625V627M704.5 625V628M706.5 625V628M707.5 625V628M709.5 625V629M710.5 625V629M711.5 625V629M713.5 625V629M714.5 625V629M716.5 625V629M717.5 625V629M719.5 625V628M720.5 625V627M721.5 625V626M723.5 624V626M724.5 623V626M726.5 622V626M727.5 622V626M729.5 622V626M730.5 622V626M731.5 622V626M733.5 623V626M734.5 623V626M736.5 623V626M737.5 623V626M739.5 623V626M740.5 623V626M741.5 623V626M743.5 623V626M744.5 624V626M746.5 624V626M747.5 624V626M749.5 624V626M750.5 624V626M751.5 623V626M753.5 622V626M754.5 621V626M756.5 620V626M757.5 620V626M759.5 619V626M760.5 618V626M761.5 617V626M763.5 617V626M764.5 617V626M766.5 616V626M767.5 616V626M769.5 616V626M770.5 616V626M771.5 615V626M773.5 616V626M774.5 616V626M776.5 617V626M777.5 618V626M779.5 619V626M780.5 621V626M781.5 621V626M783.5 622V626M784.5 622V626M786.5 621V626M787.5 620V626M789.5 620V626M790.5 619V626M791.5 619V626M793.5 619V626M794.5 621V626M796.5 622V626M797.5 624V626M799.5 625V626M800.5 625V628M801.5 625V629M803.5 625V630M804.5 625V631M806.5 625V632M807.5 625V632M809.5 625V633M810.5 625V633M811.5 625V634M813.5 625V634M814.5 625V634M816.5 625V635M817.5 625V635M819.5 625V635M820.5 625V635M821.5 625V635M823.5 625V635M824.5 625V635M826.5 625V636M827.5 625V636M829.5 625V636M830.5 625V635M831.5 625V635M833.5 625V635M834.5 625V635M836.5 625V635M837.5 625V635M839.5 625V635M840.5 625V635M842.5 625V634M843.5 625V634M844.5 625V632M846.5 625V631M847.5 625V630M849.5 625V629M850.5 625V630M852.5 625V630M853.5 625V630M854.5 625V630M856.5 625V630M857.5 625V631M859.5 625V631M860.5 625V631M862.5 625V631M863.5 625V631M864.5 625V631M866.5 625V631M867.5 625V632M869.5 625V631M870.5 625V631M872.5 625V631M873.5 625V630M874.5 625V628M876.5 625V626M877.5 624V626M879.5 623V626M880.5 622V626M882.5 621V626M883.5 621V626M884.5 620V626M886.5 620V626M887.5 619V626M889.5 619V626M890.5 619V626M892.5 619V626M893.5 619V626M894.5 619V626M896.5 619V626M897.5 620V626M899.5 620V626M900.5 620V626M902.5 620V626M903.5 620V626M904.5 620V626M906.5 621V626M907.5 621V626M909.5 621V626M910.5 621V626M912.5 621V626M913.5 621V626M914.5 621V626M916.5 621V626M917.5 622V626M919.5 622V626M920.5 622V626M922.5 622V626M923.5 623V626M924.5 623V626M926.5 623V626M927.5 624V626M929.5 624V626M930.5 625V626M932.5 625V626M933.5 625V627M934.5 625V628M936.5 625V628M937.5 625V628M939.5 625V628M940.5 625V629M942.5 625V629M943.5 625V629M944.5 625V629M946.5 625V629M947.5 625V629M949.5 625V629M950.5 625V629M952.5 625V628M953.5 625V628M954.5 625V628M956.5 625V627M957.5 625V627M959.5 625V627M960.5 625V626M962.5 625V626M963.5 625V626M964.5 625V626M966.5 624V626M967.5 625V626M969.5 625V626M970.5 625V626M972.5 625V627M973.5 625V627M974.5 625V628M976.5 625V629M977.5 625V630M979.5 625V631M980.5 625V631M982.5 625V632M983.5 625V632M984.5 625V632M986.5 625V632M987.5 625V632M989.5 625V632M990.5 625V632M992.5 625V631M993.5 625V630M994.5 625V629M996.5 625V628M997.5 625V627M999.5 625V627M1000.5 625V627M1002.5 625V627M1003.5 625V628M1004.5 625V627M1006.5 625V626M1007.5 624V626M1009.5 624V626M1010.5 623V626M1012.5 622V626M1013.5 621V626M1014.5 620V626M1016.5 619V626M1017.5 618V626M1019.5 618V626M1020.5 617V626M1022.5 617V626M1023.5 617V626M1024.5 617V626M1026.5 617V626M1027.5 618V626M1029.5 619V626M1030.5 621V626M1032.5 622V626M1033.5 623V626M1034.5 624V626M1036.5 625V626M1037.5 625V627M1039.5 625V628M1040.5 625V629M1042.5 625V630M1043.5 625V630M1044.5 625V631M1046.5 625V631M1047.5 625V632M1049.5 625V633M1050.5 625V633M1052.5 625V634M1053.5 625V634M1054.5 625V634M1056.5 625V633M1057.5 625V632M1059.5 625V630M1060.5 625V629M1062.5 625V629M1063.5 625V630M1064.5 625V631M1066.5 625V630M1067.5 624V626M1069.5 619V626M1070.5 616V626M1072.5 615V626M1073.5 614V626M1074.5 613V626M1076.5 613V626M1077.5 612V626M1079.5 612V626M1080.5 612V626M1082.5 612V626M1083.5 612V626M1084.5 613V626M1086.5 613V626M1087.5 614V626M1089.5 615V626M1090.5 616V626M1092.5 617V626M1093.5 618V626M1094.5 619V626M1096.5 621V626M1097.5 622V626M1099.5 623V626M1100.5 624V626M1102.5 625V626M1103.5 625V626M1104.5 625V626M1106.5 625V626M1107.5 625V626M1109.5 625V626M1110.5 625V626M1112.5 624V626M1113.5 624V626M1114.5 624V626M1116.5 624V626M1117.5 624V626M1119.5 624V626M1120.5 624V626M1122.5 623V626M1123.5 622V626M1124.5 621V626M1126.5 619V626M1127.5 619V626M1129.5 618V626M1130.5 618V626M1132.5 617V626M1133.5 617V626M1134.5 617V626M1136.5 617V626M1137.5 617V626M1139.5 617V626M1140.5 618V626M1142.5 619V626M1143.5 620V626M1144.5 622V626M1146.5 623V626M1147.5 625V626M1149.5 625V628M1150.5 625V630M1152.5 625V631M1153.5 625V633M1154.5 625V634M1156.5 625V635M1157.5 625V636M1159.5 625V636M1160.5 625V637M1162.5 625V637M1163.5 625V638M1164.5 625V639M1166.5 625V639M1167.5 625V639M1169.5 625V638M1170.5 625V636M1172.5 625V636M1173.5 625V636M1174.5 625V637M1176.5 625V638M1177.5 625V638M1179.5 625V639M1180.5 625V639M1182.5 625V639M1183.5 625V639M1184.5 625V639M1186.5 625V639M1187.5 625V639M1189.5 625V639M1190.5 625V638M1192.5 625V638M1193.5 625V638M1194.5 625V638M1196.5 625V639M1197.5 625V640M1199.5 625V640" stroke="#1010d0" stroke-width="1" fill="none" shape-rendering="crispEdges"/>
<polyline points="6.5,617.9 7.5,617.9 8.5,617.9 10.5,617.9 11.5,617.9 13.5,617.9 14.5,617.9 16.5,617.8 17.5,617.7 18.5,617.5 20.5,617.2 21.5,616.8 23.5,616.3 24.5,615.6 26.5,614.9 27.5,614.2 28.5,613.4 30.5,612.6 31.5,611.7 33.5,611.0 34.5,610.2 36.5,609.6 37.5,609.1 38.5,608.6 40.5,608.2 41.5,607.9 43.5,607.7 44.5,607.5 46.5,607.4 47.5,607.4 48.5,607.3 50.5,607.4 51.5,607.4 53.5,607.4 54.5,607.5 56.5,607.5 57.5,607.5 58.5,607.6 60.5,607.6 61.5,607.6 63.5,607.7 64.5,607.8 66.5,607.8 67.5,607.9 68.5,608.1 70.5,608.2 71.5,608.4 73.5,608.6 74.5,608.9 76.5,609.1 77.5,609.4 78.5,609.7 80.5,610.0 81.5,610.3 83.5,610.6 84.5,610.9 86.5,611.2 87.5,611.6 88.5,612.0 90.5,612.5 91.5,613.0 93.5,613.6 94.5,614.2 96.5,614.8 97.5,615.5 98.5,616.1 100.5,616.8 101.5,617.4 103.5,618.1 104.5,618.6 106.5,619.2 107.5,619.7 108.5,620.1 110.5,620.5 111.5,620.9 113.5,621.2 114.5,621.5 116.5,621.8 117.5,622.1 118.5,622.3 120.5,622.5 121.5,622.7 123.5,622.9 124.5,623.0 126.5,623.2 127.5,623.3 128.5,623.5 130.5,623.7 131.5,623.9 133.5,624.2 134.5,624.5 136.5,624.9 137.5,625.3 138.5,625.7 140.5,626.2 141.5,626.7 143.5,627.2 144.5,627.7 146.5,628.1 147.5,628.6 148.5,629.1 150.5,629.5 151.5,630.0 153.5,630.4 154.5,630.7 156.5,631.0 157.5,631.2 158.5,631.5 160.5,631.7 161.5,631.8 163.5,631.9 164.5,632.0 166.5,632.1 167.5,632.1 168.5,632.1 170.5,632.0 171.5,631.9 173.5,631.8 174.5,631.7 176.5,631.6 177.5,631.4 178.5,631.2 180.5,631.0 181.5,630.9 183.5,630.7 184.5,630.5 186.5,630.4 187.5,630.3 188.5,630.2 190.5,630.1 191.5,630.0 193.5,630.0 194.5,629.9 196.5,629.9 197.5,629.9 198.5,629.9 200.5,629.9 201.5,629.9 203.5,629.9 204.5,630.0 206.5,630.0 207.5,630.0 208.5,629.9 210.5,629.9 211.5,629.9 213.5,629.8 214.5,629.7 216.5,629.6 217.5,629.3 218.5,628.8 220.5,628.1 221.5,627.3 223.5,626.4 224.5,625.7 226.5,625.1 227.5,624.6 228.5,624.1 230.5,623.7 231.5,623.4 233.5,623.2 234.5,623.0 236.5,622.9 237.5,622.7 238.5,622.7 240.5,622.6 241.5,622.6 243.5,622.6 244.5,622.6 246.5,622.6 247.5,622.6 248.5,622.6 250.5,622.7 251.5,622.7 253.5,622.7 254.5,622.7 256.5,622.7 257.5,622.7 258.5,622.7 260.5,622.6 261.5,622.5 263.5,622.4 264.5,622.3 266.5,622.1 267.5,621.9 268.5,621.6 270.5,621.3 271.5,621.0 273.5,620.6 274.5,620.2 276.5,619.8 277.5,619.2 278.5,618.6 280.5,618.0 281.5,617.3 283.5,616.5 284.5,615.7 286.5,615.0 287.5,614.3 288.5,613.6 290.5,612.9 291.5,612.2 293.5,611.6 294.5,611.0 296.5,610.4 297.5,609.8 298.5,609.3 300.5,608.8 301.5,608.3 303.5,607.8 304.5,607.4 306.5,607.0 307.5,606.6 308.5,606.3 310.5,606.0 311.5,605.7 313.5,605.4 314.5,605.2 316.5,605.0 317.5,604.8 318.5,604.6 320.5,604.4 321.5,604.3 323.5,604.2 324.5,604.0 326.5,603.9 327.5,603.7 328.5,603.6 330.5,603.5 331.5,603.3 333.5,603.2 334.5,603.0 336.5,602.9 337.5,602.7 338.5,602.4 340.5,601.9 341.5,601.2 343.5,600.4 344.5,599.4 346.5,598.2 347.5,597.0 348.5,595.6 350.5,594.0 351.5,592.4 353.5,590.6 354.5,588.6 356.5,586.4 357.5,584.2 358.5,581.9 360.5,579.7 361.5,577.6 363.5,575.6 364.5,573.7 366.5,571.9 367.5,570.2 368.5,568.6 370.5,567.1 371.5,565.6 373.5,564.3 374.5,563.0 376.5,561.8 377.5,560.6 379.5,559.6 380.5,558.6 381.5,557.9 383.5,557.4 384.5,557.1 386.5,556.9 387.5,556.8 389.5,556.8 390.5,556.9 391.5,557.0 393.5,557.3 394.5,557.5 396.5,557.7 397.5,558.0 399.5,558.3 400.5,558.5 401.5,558.8 403.5,558.9 404.5,559.1 406.5,559.1 407.5,559.1 409.5,559.1 410.5,559.0 411.5,558.9 413.5,558.7 414.5,558.6 416.5,558.5 417.5,558.4 419.5,558.3 420.5,558.2 421.5,558.2 423.5,558.2 424.5,558.2 426.5,558.2 427.5,558.2 429.5,558.2 430.5,558.2 431.5,558.2 433.5,558.2 434.5,558.2 436.5,558.2 437.5,558.1 439.5,558.0 440.5,557.7 441.5,557.1 443.5,556.3 444.5,555.3 446.5,554.3 447.5,553.4 449.5,552.5 450.5,551.7 451.5,551.1 453.5,550.8 454.5,550.7 456.5,550.9 457.5,551.3 459.5,551.8 460.5,552.4 461.5,553.0 463.5,553.4 464.5,553.7 466.5,553.9 467.5,554.3 469.5,554.9 470.5,555.7 471.5,556.8 473.5,558.0 474.5,559.2 476.5,560.2 477.5,561.1 479.5,561.8 480.5,562.4 481.5,562.9 483.5,563.3 484.5,563.6 486.5,563.8 487.5,563.9 489.5,563.9 490.5,563.9 491.5,563.9 493.5,563.8 494.5,563.7 496.5,563.5 497.5,563.4 499.5,563.3 500.5,563.2 501.5,563.1 503.5,563.0 504.5,563.0 506.5,563.0 507.5,563.1 509.5,563.3 510.5,563.7 511.5,564.3 513.5,565.0 514.5,566.0 516.5,566.9 517.5,567.9 519.5,568.7 520.5,569.5 521.5,570.1 523.5,570.7 524.5,571.1 526.5,571.5 527.5,571.7 529.5,571.9 530.5,571.9 531.5,571.8 533.5,571.6 534.5,571.4 536.5,571.2 537.5,571.0 539.5,571.0 540.5,571.0 541.5,571.2 543.5,571.4 544.5,571.8 546.5,572.1 547.5,572.5 549.5,572.9 550.5,573.3 551.5,573.6 553.5,573.8 554.5,573.9 556.5,574.0 557.5,573.9 559.5,573.8 560.5,573.6 561.5,573.3 563.5,573.1 564.5,572.8 566.5,572.5 567.5,572.3 569.5,572.0 570.5,571.7 571.5,571.4 573.5,571.1 574.5,570.7 576.5,570.2 577.5,569.6 579.5,568.9 580.5,568.1 581.5,567.2 583.5,566.2 584.5,565.0 586.5,563.9 587.5,562.7 589.5,561.6 590.5,560.6 591.5,559.6 593.5,558.8 594.5,558.0 596.5,557.4 597.5,556.7 599.5,556.1 600.5,555.6 601.5,555.1 603.5,554.7 604.5,554.2 606.5,553.8 607.5,553.3 609.5,552.7 610.5,551.8 611.5,550.5 613.5,549.0 614.5,547.3 616.5,545.6 617.5,544.0 619.5,542.6 620.5,541.3 621.5,540.1 623.5,539.1 624.5,538.2 626.5,537.4 627.5,536.6 629.5,536.0 630.5,535.5 631.5,535.0 633.5,534.7 634.5,534.5 636.5,534.4 637.5,534.5 639.5,534.7 640.5,535.1 641.5,535.6 643.5,536.1 644.5,536.5 646.5,536.8 647.5,537.0 649.5,537.1 650.5,537.1 651.5,537.0 653.5,537.0 654.5,537.0 656.5,537.1 657.5,537.4 659.5,537.9 660.5,538.6 661.5,539.6 663.5,540.7 664.5,542.1 666.5,543.5 667.5,545.0 669.5,546.6 670.5,548.2 671.5,549.7 673.5,551.2 674.5,552.6 676.5,553.9 677.5,555.2 679.5,556.5 680.5,557.6 681.5,558.8 683.5,559.8 684.5,560.8 686.5,561.8 687.5,562.7 689.5,563.5 690.5,564.2 691.5,564.8 693.5,565.4 694.5,565.8 696.5,566.1 697.5,566.3 699.5,566.5 700.5,566.6 701.5,566.8 703.5,567.0 704.5,567.4 706.5,567.8 707.5,568.3 709.5,568.9 710.5,569.6 711.5,570.4 713.5,571.2 714.5,572.0 716.5,572.7 717.5,573.4 719.5,573.9 720.5,574.1 721.5,574.1 723.5,573.8 724.5,573.2 726.5,572.5 727.5,571.7 729.5,570.9 730.5,570.2 731.5,569.4 733.5,568.8 734.5,568.1 736.5,567.5 737.5,567.0 739.5,566.4 740.5,565.9 741.5,565.4 743.5,564.9 744.5,564.6 746.5,564.3 747.5,564.0 749.5,563.8 750.5,563.4 751.5,562.9 753.5,562.1 754.5,561.1 756.5,559.9 757.5,558.4 759.5,556.8 760.5,555.0 761.5,553.0 763.5,551.0 764.5,548.8 766.5,546.6 767.5,544.3 769.5,542.0 770.5,539.5 771.5,537.0 773.5,534.6 774.5,532.3 776.5,530.2 777.5,528.5 779.5,527.0 780.5,525.8 781.5,524.9 783.5,524.0 784.5,523.2 786.5,522.2 787.5,521.0 789.5,519.5 790.5,517.9 791.5,516.3 793.5,514.8 794.5,513.7 796.5,512.9 797.5,512.5 799.5,512.6 800.5,512.9 801.5,513.6 803.5,514.5 804.5,515.6 806.5,516.9 807.5,518.4 809.5,520.0 810.5,521.8 811.5,523.6 813.5,525.5 814.5,527.5 816.5,529.6 817.5,531.7 819.5,533.9 820.5,536.1 821.5,538.4 823.5,540.7 824.5,543.0 826.5,545.3 827.5,547.6 829.5,549.9 830.5,552.2 831.5,554.5 833.5,556.7 834.5,559.0 836.5,561.3 837.5,563.5 839.5,565.7 840.5,567.8 842.5,569.8 843.5,571.6 844.5,573.1 846.5,574.2 847.5,575.1 849.5,575.9 850.5,576.7 852.5,577.6 853.5,578.5 854.5,579.5 856.5,580.5 857.5,581.6 859.5,582.7 860.5,583.8 862.5,585.0 863.5,586.2 864.5,587.4 866.5,588.7 867.5,590.0 869.5,591.3 870.5,592.5 872.5,593.6 873.5,594.4 874.5,594.8 876.5,594.9 877.5,594.5 879.5,593.9 880.5,593.1 882.5,592.1 883.5,590.9 884.5,589.6 886.5,588.1 887.5,586.6 889.5,585.0 890.5,583.4 892.5,581.8 893.5,580.3 894.5,578.8 896.5,577.3 897.5,575.9 899.5,574.5 900.5,573.2 902.5,571.9 903.5,570.7 904.5,569.5 906.5,568.3 907.5,567.2 909.5,566.0 910.5,564.9 912.5,563.8 913.5,562.8 914.5,561.8 916.5,560.8 917.5,559.8 919.5,558.9 920.5,558.1 922.5,557.3 923.5,556.6 924.5,556.0 926.5,555.5 927.5,555.1 929.5,554.7 930.5,554.5 932.5,554.5 933.5,554.7 934.5,555.0 936.5,555.5 937.5,556.0 939.5,556.5 940.5,557.1 942.5,557.7 943.5,558.3 944.5,558.9 946.5,559.5 947.5,560.2 949.5,560.8 950.5,561.3 952.5,561.9 953.5,562.3 954.5,562.7 956.5,563.0 957.5,563.2 959.5,563.3 960.5,563.3 962.5,563.2 963.5,563.0 964.5,562.8 966.5,562.6 967.5,562.4 969.5,562.3 970.5,562.3 972.5,562.4 973.5,562.7 974.5,563.2 976.5,563.9 977.5,564.7 979.5,565.8 980.5,567.0 982.5,568.4 983.5,569.9 984.5,571.4 986.5,573.0 987.5,574.5 989.5,575.9 990.5,577.2 992.5,578.3 993.5,579.1 994.5,579.7 996.5,580.1 997.5,580.2 999.5,580.3 1000.5,580.5 1002.5,580.7 1003.5,581.1 1004.5,581.3 1006.5,581.3 1007.5,581.1 1009.5,580.7 1010.5,580.0 1012.5,579.2 1013.5,578.1 1014.5,576.8 1016.5,575.2 1017.5,573.5 1019.5,571.5 1020.5,569.4 1022.5,567.3 1023.5,565.1 1024.5,563.0 1026.5,561.0 1027.5,559.2 1029.5,557.7 1030.5,556.6 1032.5,555.8 1033.5,555.2 1034.5,555.0 1036.5,555.0 1037.5,555.3 1039.5,555.8 1040.5,556.4 1042.5,557.3 1043.5,558.4 1044.5,559.5 1046.5,560.8 1047.5,562.2 1049.5,563.8 1050.5,565.6 1052.5,567.4 1053.5,569.3 1054.5,571.2 1056.5,572.8 1057.5,574.2 1059.5,575.1 1060.5,575.8 1062.5,576.4 1063.5,577.2 1064.5,578.4 1066.5,579.3 1067.5,579.1 1069.5,577.6 1070.5,575.4 1072.5,572.8 1073.5,570.0 1074.5,566.9 1076.5,563.8 1077.5,560.5 1079.5,557.2 1080.5,553.9 1082.5,550.6 1083.5,547.4 1084.5,544.3 1086.5,541.4 1087.5,538.6 1089.5,536.0 1090.5,533.6 1092.5,531.5 1093.5,529.6 1094.5,528.1 1096.5,526.9 1097.5,526.1 1099.5,525.7 1100.5,525.4 1102.5,525.3 1103.5,525.2 1104.5,525.1 1106.5,525.0 1107.5,524.8 1109.5,524.7 1110.5,524.5 1112.5,524.3 1113.5,524.1 1114.5,523.8 1116.5,523.6 1117.5,523.3 1119.5,523.0 1120.5,522.6 1122.5,522.1 1123.5,521.4 1124.5,520.2 1126.5,518.7 1127.5,517.1 1129.5,515.3 1130.5,513.3 1132.5,511.3 1133.5,509.2 1134.5,507.1 1136.5,504.9 1137.5,502.9 1139.5,500.8 1140.5,499.0 1142.5,497.3 1143.5,496.1 1144.5,495.3 1146.5,494.7 1147.5,494.5 1149.5,494.9 1150.5,495.7 1152.5,497.0 1153.5,498.6 1154.5,500.5 1156.5,502.6 1157.5,505.0 1159.5,507.5 1160.5,510.1 1162.5,512.9 1163.5,515.9 1164.5,519.1 1166.5,522.3 1167.5,525.5 1169.5,528.4 1170.5,531.0 1172.5,533.3 1173.5,535.7 1174.5,538.3 1176.5,541.2 1177.5,544.2 1179.5,547.4 1180.5,550.6 1182.5,553.8 1183.5,557.1 1184.5,560.3 1186.5,563.5 1187.5,566.7 1189.5,569.7 1190.5,572.8 1192.5,575.7 1193.5,578.7 1194.5,581.7 1196.5,584.8 1197.5,588.1 1199.5,591.6" stroke="#000" stroke-width="1" fill="none" shape-rendering="crispEdges"/><polyline points="6.5,617.9 7.5,617.8 8.5,617.8 10.5,617.9 11.5,617.9 13.5,617.9 14.5,617.8 16.5,617.6 17.5,617.2 18.5,616.7 20.5,616.0 21.5,615.1 23.5,614.2 24.5,613.2 26.5,612.2 27.5,611.2 28.5,610.2 30.5,609.3 31.5,608.5 33.5,607.8 34.5,607.4 36.5,607.1 37.5,606.8 38.5,606.7 40.5,606.7 41.5,606.7 43.5,606.8 44.5,606.9 46.5,607.0 47.5,607.2 48.5,607.3 50.5,607.4 51.5,607.5 53.5,607.6 54.5,607.6 56.5,607.6 57.5,607.7 58.5,607.7 60.5,607.7 61.5,607.8 63.5,607.9 64.5,608.0 66.5,608.2 67.5,608.4 68.5,608.6 70.5,608.9 71.5,609.2 73.5,609.5 74.5,609.8 76.5,610.1 77.5,610.4 78.5,610.8 80.5,611.1 81.5,611.5 83.5,611.8 84.5,612.2 86.5,612.6 87.5,613.1 88.5,613.7 90.5,614.4 91.5,615.1 93.5,615.8 94.5,616.6 96.5,617.3 97.5,618.1 98.5,618.8 100.5,619.5 101.5,620.0 103.5,620.5 104.5,621.0 106.5,621.3 107.5,621.6 108.5,621.9 110.5,622.1 111.5,622.4 113.5,622.6 114.5,622.8 116.5,623.0 117.5,623.1 118.5,623.3 120.5,623.3 121.5,623.4 123.5,623.5 124.5,623.6 126.5,623.7 127.5,623.9 128.5,624.2 130.5,624.5 131.5,624.9 133.5,625.4 134.5,625.9 136.5,626.4 137.5,626.9 138.5,627.5 140.5,628.0 141.5,628.6 143.5,629.1 144.5,629.6 146.5,630.1 147.5,630.5 148.5,631.0 150.5,631.3 151.5,631.7 153.5,631.9 154.5,632.0 156.5,632.2 157.5,632.3 158.5,632.4 160.5,632.4 161.5,632.4 163.5,632.4 164.5,632.4 166.5,632.3 167.5,632.2 168.5,632.0 170.5,631.8 171.5,631.6 173.5,631.4 174.5,631.2 176.5,631.0 177.5,630.7 178.5,630.5 180.5,630.3 181.5,630.2 183.5,630.0 184.5,629.9 186.5,629.8 187.5,629.8 188.5,629.7 190.5,629.7 191.5,629.7 193.5,629.8 194.5,629.8 196.5,629.8 197.5,629.9 198.5,629.9 200.5,630.0 201.5,630.0 203.5,630.0 204.5,630.0 206.5,630.0 207.5,629.9 208.5,629.9 210.5,629.8 211.5,629.7 213.5,629.5 214.5,629.3 216.5,629.1 217.5,628.3 218.5,626.9 220.5,625.3 221.5,623.9 223.5,623.0 224.5,622.8 226.5,622.6 227.5,622.5 228.5,622.4 230.5,622.3 231.5,622.2 233.5,622.2 234.5,622.2 236.5,622.3 237.5,622.3 238.5,622.3 240.5,622.4 241.5,622.5 243.5,622.5 244.5,622.6 246.5,622.7 247.5,622.7 248.5,622.8 250.5,622.8 251.5,622.8 253.5,622.8 254.5,622.8 256.5,622.7 257.5,622.6 258.5,622.5 260.5,622.4 261.5,622.2 263.5,622.0 264.5,621.7 266.5,621.4 267.5,621.0 268.5,620.6 270.5,620.2 271.5,619.7 273.5,619.2 274.5,618.6 276.5,617.9 277.5,617.1 278.5,616.2 280.5,615.3 281.5,614.4 283.5,613.5 284.5,612.7 286.5,612.0 287.5,611.4 288.5,610.8 290.5,610.2 291.5,609.6 293.5,609.1 294.5,608.6 296.5,608.1 297.5,607.6 298.5,607.1 300.5,606.7 301.5,606.3 303.5,606.0 304.5,605.7 306.5,605.4 307.5,605.2 308.5,604.9 310.5,604.7 311.5,604.6 313.5,604.4 314.5,604.3 316.5,604.1 317.5,604.0 318.5,603.9 320.5,603.8 321.5,603.7 323.5,603.6 324.5,603.5 326.5,603.3 327.5,603.2 328.5,603.1 330.5,603.0 331.5,602.8 333.5,602.6 334.5,602.4 336.5,602.2 337.5,601.8 338.5,601.2 340.5,600.0 341.5,598.5 343.5,597.0 344.5,595.4 346.5,593.7 347.5,591.9 348.5,590.0 350.5,588.0 351.5,585.8 353.5,583.3 354.5,580.6 356.5,577.8 357.5,575.2 358.5,572.9 360.5,571.0 361.5,569.2 363.5,567.6 364.5,566.1 366.5,564.7 367.5,563.4 368.5,562.2 370.5,561.0 371.5,559.9 373.5,558.8 374.5,557.8 376.5,556.9 377.5,556.1 379.5,555.3 380.5,554.9 381.5,555.1 383.5,555.4 384.5,555.8 386.5,556.1 387.5,556.5 389.5,556.8 390.5,557.3 391.5,557.7 393.5,558.1 394.5,558.4 396.5,558.8 397.5,559.1 399.5,559.3 400.5,559.5 401.5,559.6 403.5,559.6 404.5,559.5 406.5,559.4 407.5,559.1 409.5,558.9 410.5,558.6 411.5,558.4 413.5,558.2 414.5,558.0 416.5,558.0 417.5,557.9 419.5,557.9 420.5,558.0 421.5,558.0 423.5,558.1 424.5,558.1 426.5,558.2 427.5,558.3 429.5,558.3 430.5,558.3 431.5,558.3 433.5,558.2 434.5,558.1 436.5,558.0 437.5,557.7 439.5,557.4 440.5,556.4 441.5,554.8 443.5,553.0 444.5,551.5 446.5,550.5 447.5,549.5 449.5,548.8 450.5,548.5 451.5,548.8 453.5,549.5 454.5,550.5 456.5,551.7 457.5,552.9 459.5,553.9 460.5,554.8 461.5,555.2 463.5,555.0 464.5,554.8 466.5,554.9 467.5,555.7 469.5,557.2 470.5,559.1 471.5,561.0 473.5,562.7 474.5,564.0 476.5,564.4 477.5,564.6 479.5,564.8 480.5,564.8 481.5,564.8 483.5,564.8 484.5,564.7 486.5,564.5 487.5,564.3 489.5,564.1 490.5,563.9 491.5,563.7 493.5,563.4 494.5,563.2 496.5,563.1 497.5,562.9 499.5,562.8 500.5,562.7 501.5,562.7 503.5,562.7 504.5,562.9 506.5,563.1 507.5,563.6 509.5,564.2 510.5,565.2 511.5,566.6 513.5,568.1 514.5,569.6 516.5,570.8 517.5,571.6 519.5,572.1 520.5,572.5 521.5,572.8 523.5,572.9 524.5,572.9 526.5,572.9 527.5,572.8 529.5,572.4 530.5,571.9 531.5,571.4 533.5,570.9 534.5,570.5 536.5,570.4 537.5,570.5 539.5,570.8 540.5,571.3 541.5,571.8 543.5,572.4 544.5,573.0 546.5,573.6 547.5,574.1 549.5,574.5 550.5,574.8 551.5,574.8 553.5,574.7 554.5,574.4 556.5,574.1 557.5,573.7 559.5,573.2 560.5,572.8 561.5,572.4 563.5,572.0 564.5,571.8 566.5,571.5 567.5,571.2 569.5,570.9 570.5,570.6 571.5,570.2 573.5,569.7 574.5,569.1 576.5,568.3 577.5,567.3 579.5,566.2 580.5,564.8 581.5,563.4 583.5,562.0 584.5,560.6 586.5,559.3 587.5,558.1 589.5,557.2 590.5,556.5 591.5,555.9 593.5,555.4 594.5,555.0 596.5,554.6 597.5,554.2 599.5,553.7 600.5,553.4 601.5,553.2 603.5,552.9 604.5,552.5 606.5,552.0 607.5,551.3 609.5,550.2 610.5,548.2 611.5,545.6 613.5,542.9 614.5,540.6 616.5,538.9 617.5,537.6 619.5,536.7 620.5,536.1 621.5,535.5 623.5,535.0 624.5,534.5 626.5,534.1 627.5,533.8 629.5,533.5 630.5,533.3 631.5,533.2 633.5,533.4 634.5,533.7 636.5,534.2 637.5,534.7 639.5,535.7 640.5,536.7 641.5,537.6 643.5,538.0 644.5,538.1 646.5,538.0 647.5,537.7 649.5,537.4 650.5,537.1 651.5,536.9 653.5,536.9 654.5,537.0 656.5,537.6 657.5,538.5 659.5,539.9 660.5,541.6 661.5,543.4 663.5,545.3 664.5,547.3 666.5,549.3 667.5,551.1 669.5,552.9 670.5,554.5 671.5,555.8 673.5,557.0 674.5,558.2 676.5,559.3 677.5,560.4 679.5,561.4 680.5,562.4 681.5,563.3 683.5,564.1 684.5,564.9 686.5,565.6 687.5,566.2 689.5,566.8 690.5,567.2 691.5,567.3 693.5,567.4 694.5,567.3 696.5,567.3 697.5,567.2 699.5,567.2 700.5,567.3 701.5,567.5 703.5,568.0 704.5,568.7 706.5,569.5 707.5,570.4 709.5,571.4 710.5,572.5 711.5,573.4 713.5,574.3 714.5,575.1 716.5,575.6 717.5,576.0 719.5,575.9 720.5,575.2 721.5,574.0 723.5,572.5 724.5,570.9 726.5,569.5 727.5,568.5 729.5,567.8 730.5,567.2 731.5,566.6 733.5,566.1 734.5,565.6 736.5,565.1 737.5,564.7 739.5,564.3 740.5,563.8 741.5,563.4 743.5,563.1 744.5,563.1 746.5,563.1 747.5,563.0 749.5,562.7 750.5,562.0 751.5,560.7 753.5,559.0 754.5,557.1 756.5,555.0 757.5,552.7 759.5,550.2 760.5,547.7 761.5,545.2 763.5,542.7 764.5,540.2 766.5,537.7 767.5,535.3 769.5,532.6 770.5,529.8 771.5,527.1 773.5,524.8 774.5,523.1 776.5,522.0 777.5,521.4 779.5,521.2 780.5,521.1 781.5,521.0 783.5,520.6 784.5,519.8 786.5,518.2 787.5,516.1 789.5,513.7 790.5,511.5 791.5,509.8 793.5,509.0 794.5,509.0 796.5,509.8 797.5,511.1 799.5,512.7 800.5,514.3 801.5,516.1 803.5,518.0 804.5,520.1 806.5,522.2 807.5,524.3 809.5,526.5 810.5,528.8 811.5,531.0 813.5,533.3 814.5,535.6 816.5,537.9 817.5,540.3 819.5,542.6 820.5,545.0 821.5,547.4 823.5,549.8 824.5,552.1 826.5,554.5 827.5,556.8 829.5,559.1 830.5,561.3 831.5,563.6 833.5,565.9 834.5,568.1 836.5,570.3 837.5,572.5 839.5,574.4 840.5,576.2 842.5,577.8 843.5,578.9 844.5,579.0 846.5,578.8 847.5,578.6 849.5,579.1 850.5,580.0 852.5,581.0 853.5,582.2 854.5,583.4 856.5,584.6 857.5,585.9 859.5,587.2 860.5,588.4 862.5,589.6 863.5,590.9 864.5,592.4 866.5,593.9 867.5,595.3 869.5,596.5 870.5,597.4 872.5,597.9 873.5,597.6 874.5,596.5 876.5,595.0 877.5,593.2 879.5,591.6 880.5,589.8 882.5,588.0 883.5,586.1 884.5,584.2 886.5,582.3 887.5,580.5 889.5,578.7 890.5,577.0 892.5,575.5 893.5,574.1 894.5,572.7 896.5,571.4 897.5,570.2 899.5,569.0 900.5,567.9 902.5,566.8 903.5,565.7 904.5,564.7 906.5,563.6 907.5,562.6 909.5,561.5 910.5,560.5 912.5,559.5 913.5,558.5 914.5,557.6 916.5,556.8 917.5,556.0 919.5,555.3 920.5,554.7 922.5,554.2 923.5,553.8 924.5,553.6 926.5,553.4 927.5,553.3 929.5,553.4 930.5,553.8 932.5,554.5 933.5,555.4 934.5,556.4 936.5,557.3 937.5,557.9 939.5,558.6 940.5,559.3 942.5,560.0 943.5,560.7 944.5,561.4 946.5,562.1 947.5,562.6 949.5,563.2 950.5,563.6 952.5,564.0 953.5,564.2 954.5,564.3 956.5,564.2 957.5,563.9 959.5,563.6 960.5,563.2 962.5,562.8 963.5,562.4 964.5,562.0 966.5,561.8 967.5,561.7 969.5,561.8 970.5,562.2 972.5,562.9 973.5,563.9 974.5,565.1 976.5,566.6 977.5,568.3 979.5,570.1 980.5,572.0 982.5,573.9 983.5,575.7 984.5,577.5 986.5,579.2 987.5,580.6 989.5,581.7 990.5,582.5 992.5,582.7 993.5,582.5 994.5,582.0 996.5,581.4 997.5,580.9 999.5,580.7 1000.5,581.0 1002.5,581.8 1003.5,582.4 1004.5,582.1 1006.5,581.3 1007.5,580.3 1009.5,579.0 1010.5,577.5 1012.5,575.8 1013.5,573.8 1014.5,571.5 1016.5,569.0 1017.5,566.4 1019.5,563.7 1020.5,561.1 1022.5,558.6 1023.5,556.4 1024.5,554.5 1026.5,553.0 1027.5,552.1 1029.5,551.8 1030.5,552.0 1032.5,552.4 1033.5,553.2 1034.5,554.0 1036.5,555.1 1037.5,556.3 1039.5,557.7 1040.5,559.2 1042.5,560.8 1043.5,562.5 1044.5,564.2 1046.5,565.9 1047.5,568.0 1049.5,570.3 1050.5,572.6 1052.5,574.8 1053.5,576.8 1054.5,578.5 1056.5,579.5 1057.5,579.5 1059.5,579.1 1060.5,578.6 1062.5,578.7 1063.5,580.5 1064.5,583.0 1066.5,582.9 1067.5,578.2 1069.5,571.6 1070.5,566.5 1072.5,562.6 1073.5,558.6 1074.5,554.8 1076.5,551.1 1077.5,547.4 1079.5,544.0 1080.5,540.6 1082.5,537.5 1083.5,534.6 1084.5,531.9 1086.5,529.5 1087.5,527.5 1089.5,525.7 1090.5,524.2 1092.5,523.0 1093.5,522.1 1094.5,521.8 1096.5,522.2 1097.5,523.0 1099.5,523.8 1100.5,524.5 1102.5,524.7 1103.5,524.8 1104.5,524.7 1106.5,524.5 1107.5,524.3 1109.5,524.0 1110.5,523.7 1112.5,523.4 1113.5,523.2 1114.5,522.9 1116.5,522.6 1117.5,522.2 1119.5,521.6 1120.5,521.0 1122.5,520.2 1123.5,518.4 1124.5,515.6 1126.5,512.8 1127.5,510.4 1129.5,508.0 1130.5,505.6 1132.5,503.3 1133.5,500.9 1134.5,498.5 1136.5,496.4 1137.5,494.5 1139.5,492.8 1140.5,491.4 1142.5,490.8 1143.5,491.2 1144.5,492.0 1146.5,492.5 1147.5,493.8 1149.5,496.3 1150.5,499.1 1152.5,502.0 1153.5,505.1 1154.5,508.1 1156.5,511.2 1157.5,514.3 1159.5,517.5 1160.5,520.8 1162.5,524.1 1163.5,527.8 1164.5,531.8 1166.5,535.5 1167.5,538.3 1169.5,540.0 1170.5,541.2 1172.5,542.7 1173.5,545.4 1174.5,548.8 1176.5,552.5 1177.5,556.3 1179.5,560.1 1180.5,563.5 1182.5,566.8 1183.5,570.0 1184.5,573.2 1186.5,576.3 1187.5,579.3 1189.5,582.1 1190.5,584.8 1192.5,587.6 1193.5,590.5 1194.5,593.7 1196.5,597.4 1197.5,601.4 1199.5,605.3" stroke="#b41e28" stroke-width="1" fill="none" shape-rendering="crispEdges"/>
<text x="1225.30" y="629.5" fill="#c89c2c" font-size="10" textLength="36.30" lengthAdjust="spacing" style="font-family:'Liberation Sans'" >0,00000</text>
<rect x="1225" y="584" width="53" height="14.3" fill="#000"/>
<text x="1233.20" y="595.5" fill="#fff" font-size="10" textLength="40.10" lengthAdjust="spacing" style="font-family:'Liberation Sans'" >0,42794</text>
<rect x="1225" y="598.3" width="53" height="14.2" fill="#f00000"/>
<text x="1233.14" y="609.3" fill="#fff" font-size="10" textLength="39.50" lengthAdjust="spacing" style="font-family:'Liberation Sans'" >0,26216</text>
<rect x="1225" y="626" width="53" height="14.5" fill="#0000e0"/>
<text x="1231.58" y="637.3" fill="#fff" font-size="10" textLength="42.02" lengthAdjust="spacing" style="font-family:'Liberation Sans'" >-0,16578</text>
</svg>
</body></html>
